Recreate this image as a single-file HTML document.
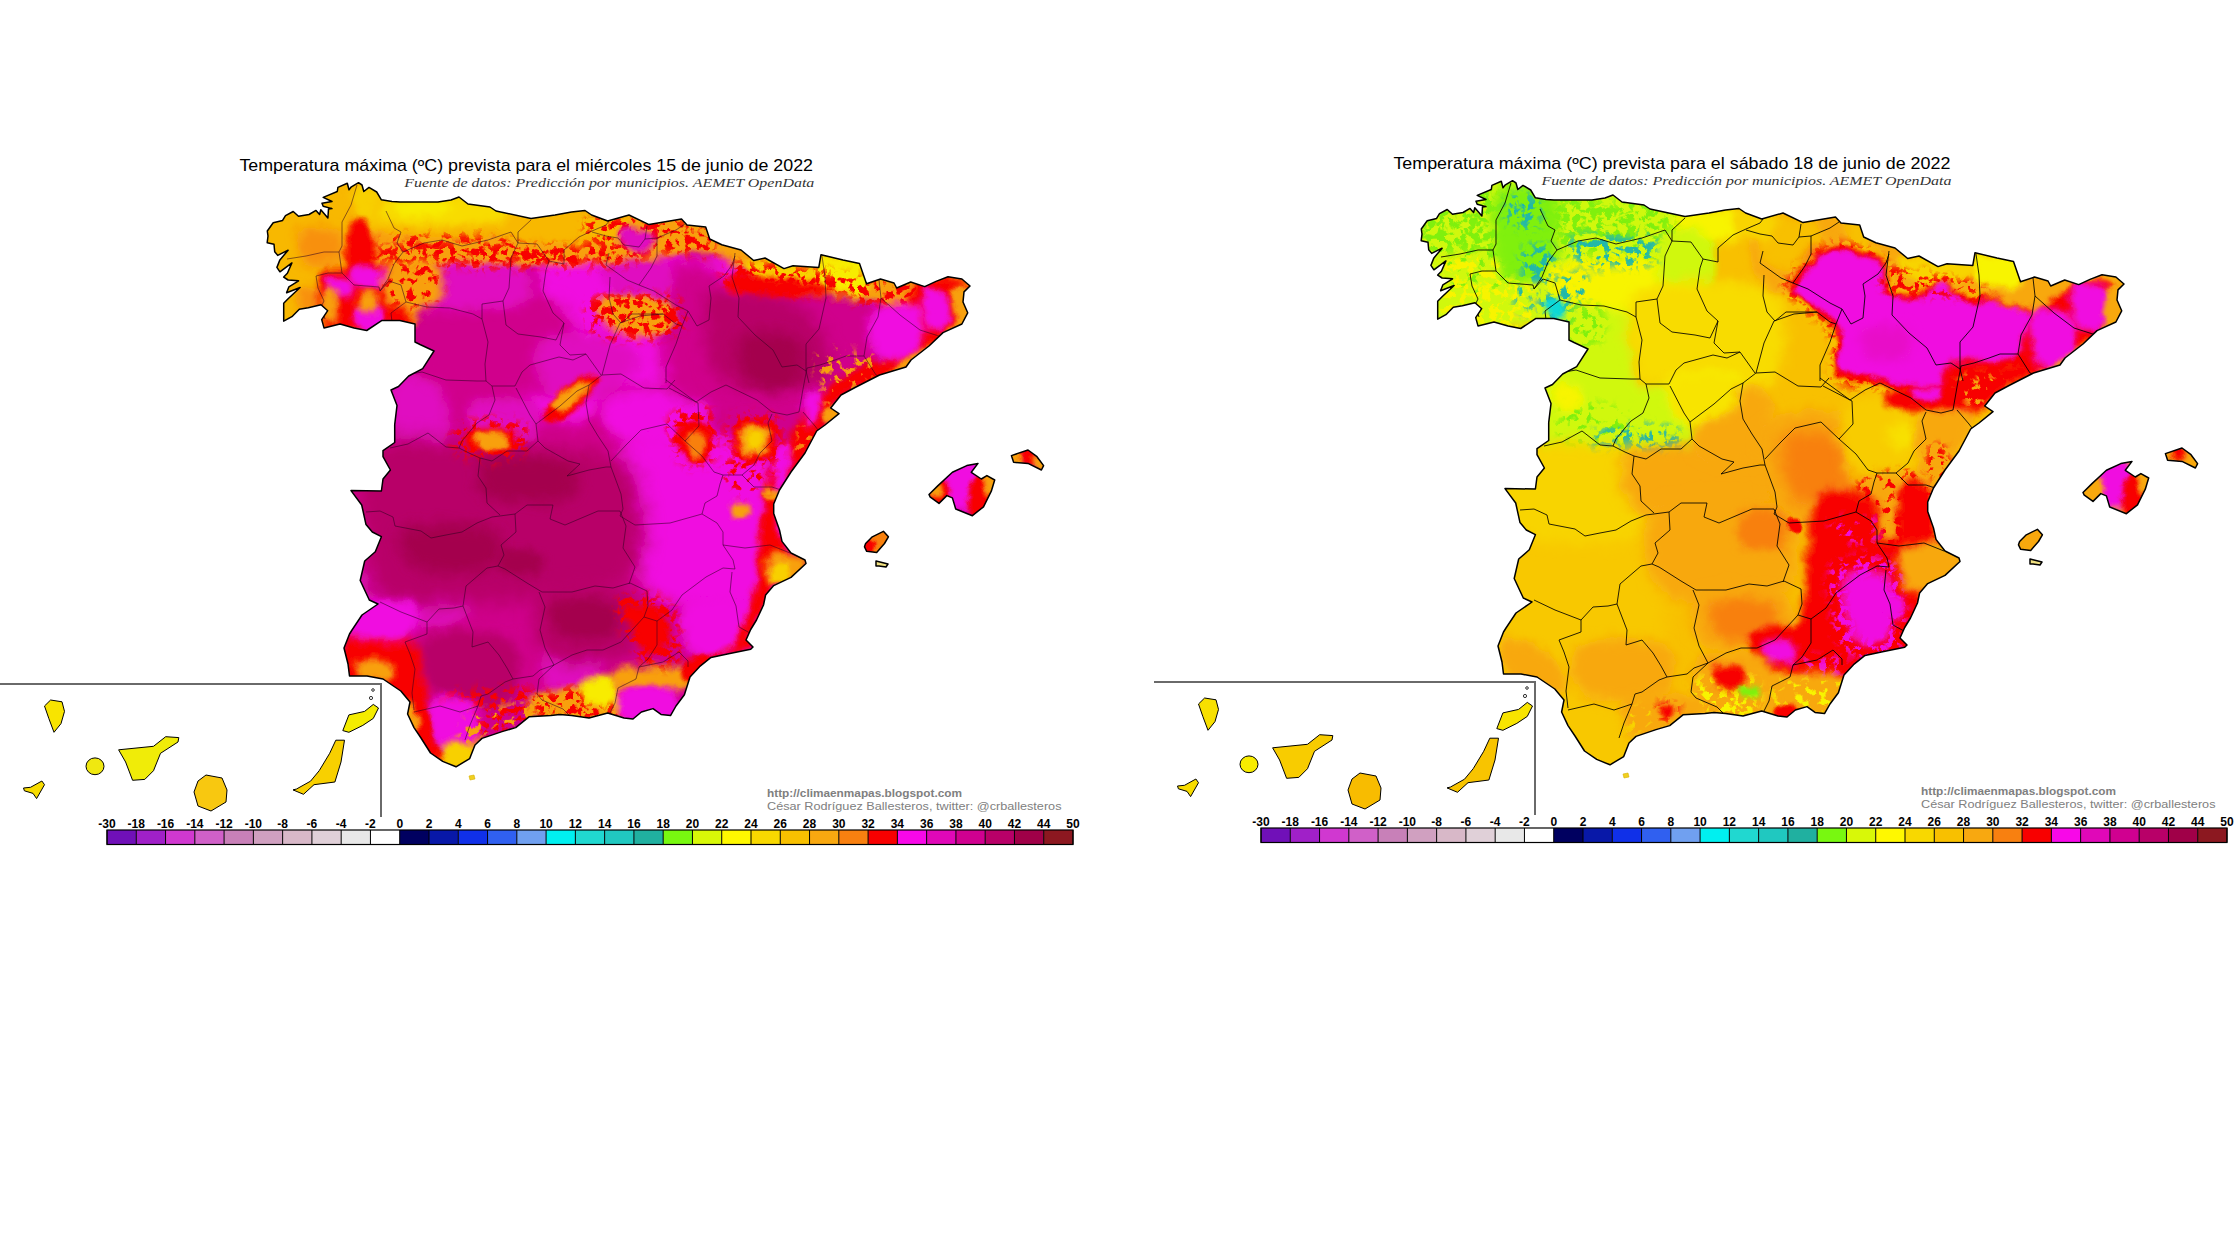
<!DOCTYPE html>
<html><head><meta charset="utf-8"><style>
html,body{margin:0;padding:0;background:#fff;width:2236px;height:1258px;overflow:hidden}
svg{display:block}
.tit{font-family:"Liberation Sans",sans-serif;font-size:16.2px;fill:#000;}
.sub{font-family:"Liberation Serif",serif;font-style:italic;font-size:12.6px;fill:#333}
.lab{font-family:"Liberation Sans",sans-serif;font-size:12px;font-weight:bold;fill:#000;text-anchor:middle}
.cr1{font-family:"Liberation Sans",sans-serif;font-size:11px;font-weight:bold;fill:#808080}
.cr2{font-family:"Liberation Sans",sans-serif;font-size:11px;fill:#808080}
</style></head><body>
<svg width="2236" height="1258" viewBox="0 0 2236 1258">
<defs><filter id="bl1" x="-50%" y="-50%" width="200%" height="200%"><feGaussianBlur stdDeviation="1"/></filter><filter id="bl2" x="-50%" y="-50%" width="200%" height="200%"><feGaussianBlur stdDeviation="2"/></filter><filter id="bl3" x="-50%" y="-50%" width="200%" height="200%"><feGaussianBlur stdDeviation="3"/></filter><filter id="bl4" x="-50%" y="-50%" width="200%" height="200%"><feGaussianBlur stdDeviation="4"/></filter><filter id="bl5" x="-50%" y="-50%" width="200%" height="200%"><feGaussianBlur stdDeviation="5"/></filter><filter id="bl6" x="-50%" y="-50%" width="200%" height="200%"><feGaussianBlur stdDeviation="6"/></filter><filter id="bl7" x="-50%" y="-50%" width="200%" height="200%"><feGaussianBlur stdDeviation="7"/></filter><filter id="bl8" x="-50%" y="-50%" width="200%" height="200%"><feGaussianBlur stdDeviation="8"/></filter><filter id="bl10" x="-50%" y="-50%" width="200%" height="200%"><feGaussianBlur stdDeviation="10"/></filter><filter id="bl12" x="-50%" y="-50%" width="200%" height="200%"><feGaussianBlur stdDeviation="12"/></filter><filter id="wob" x="0" y="0" width="2236" height="1258" filterUnits="userSpaceOnUse"><feTurbulence type="fractalNoise" baseFrequency="0.06" numOctaves="3" seed="7" result="t"/><feDisplacementMap in="SourceGraphic" in2="t" scale="10" xChannelSelector="R" yChannelSelector="G"/></filter><filter id="sp" x="-30%" y="-30%" width="160%" height="160%"><feGaussianBlur in="SourceGraphic" stdDeviation="4" result="b"/><feTurbulence type="fractalNoise" baseFrequency="0.14" numOctaves="2" seed="11" result="n"/><feColorMatrix in="n" type="matrix" values="0 0 0 0 0 0 0 0 0 0 0 0 0 0 0 10 0 0 0 -5" result="m"/><feComposite in="b" in2="m" operator="in"/></filter><filter id="sp2" x="-30%" y="-30%" width="160%" height="160%"><feGaussianBlur in="SourceGraphic" stdDeviation="4" result="b"/><feTurbulence type="fractalNoise" baseFrequency="0.12" numOctaves="2" seed="5" result="n"/><feColorMatrix in="n" type="matrix" values="0 0 0 0 0 0 0 0 0 0 0 0 0 0 0 10 0 0 0 -5.6" result="m"/><feComposite in="b" in2="m" operator="in"/></filter></defs>
<rect width="2236" height="1258" fill="#fff"/>
<g><clipPath id="clipmL"><path d="M400.0,202.0 L438.0,202.0 L451.0,200.0 L459.0,197.0 L468.0,204.0 L490.0,207.0 L496.0,211.0 L531.0,218.6 L555.0,215.0 L571.5,212.0 L585.0,210.5 L591.6,215.0 L607.7,221.0 L629.0,215.0 L649.0,224.6 L681.5,219.0 L687.0,225.0 L705.7,227.0 L709.7,239.0 L721.8,244.8 L741.0,250.0 L753.7,260.5 L765.0,258.0 L784.0,268.6 L793.0,265.7 L818.8,267.4 L821.0,254.7 L843.0,260.0 L859.5,263.4 L866.5,283.7 L880.5,279.0 L894.0,283.0 L896.7,288.0 L910.7,282.0 L924.7,286.6 L936.0,281.4 L948.0,276.7 L961.9,279.0 L970.0,286.0 L964.0,291.9 L963.0,302.0 L967.7,312.8 L961.9,324.0 L943.0,332.6 L929.0,346.0 L911.0,360.0 L906.0,367.0 L879.5,375.0 L856.0,387.0 L841.0,395.0 L830.7,408.0 L839.0,413.7 L825.0,425.0 L816.7,431.0 L805.0,453.0 L791.0,472.0 L779.5,490.0 L773.7,504.0 L773.7,513.5 L779.5,530.0 L782.0,541.4 L791.0,553.0 L805.0,560.0 L806.0,563.5 L791.0,577.4 L773.7,585.6 L765.6,595.0 L763.5,605.0 L756.5,620.0 L750.7,629.5 L746.0,640.0 L753.0,647.0 L750.7,649.3 L727.4,654.0 L711.0,657.4 L699.5,666.7 L690.0,677.0 L684.4,694.7 L676.0,706.0 L670.5,715.6 L661.0,714.4 L653.0,708.6 L641.4,712.0 L633.0,719.0 L624.0,718.0 L607.7,713.0 L589.0,718.0 L571.6,715.6 L560.0,714.4 L550.8,715.4 L529.0,716.8 L515.7,727.6 L502.0,731.6 L482.0,738.4 L475.0,745.0 L469.7,758.6 L456.0,766.8 L442.7,761.4 L430.5,753.0 L421.0,738.0 L414.0,727.6 L407.6,714.0 L410.0,702.0 L400.8,691.0 L383.0,679.0 L367.0,676.0 L349.5,676.0 L348.0,664.0 L344.0,648.0 L349.5,634.0 L352.0,630.0 L362.0,615.0 L378.0,604.0 L369.3,600.0 L360.2,580.5 L364.7,561.0 L375.3,551.8 L381.4,536.7 L372.3,532.0 L366.0,524.6 L361.7,505.0 L351.0,490.6 L381.4,491.0 L383.0,479.0 L390.4,470.0 L383.0,456.6 L383.0,450.6 L394.7,442.5 L394.7,424.7 L397.0,405.6 L391.0,390.0 L398.5,386.5 L408.7,376.0 L422.7,368.7 L434.0,351.0 L420.0,344.5 L415.0,342.0 L415.0,324.0 L399.8,320.4 L382.0,320.4 L366.7,330.5 L354.0,328.0 L340.0,324.0 L324.0,327.9 L321.7,319.6 L327.7,310.7 L321.0,304.7 L308.3,307.7 L299.3,309.2 L291.9,316.7 L283.7,321.1 L283.7,303.2 L288.1,298.7 L300.1,287.5 L286.6,292.8 L288.9,286.8 L298.6,280.8 L288.1,280.0 L283.7,277.1 L287.4,273.3 L291.9,262.9 L279.9,271.8 L276.9,267.4 L279.9,259.9 L288.1,250.2 L277.7,255.4 L274.7,251.7 L274.0,244.2 L267.2,242.7 L268.0,236.0 L267.3,231.0 L273.2,222.7 L282.6,220.4 L285.5,215.6 L293.2,211.5 L298.5,216.2 L309.0,214.5 L316.0,210.4 L319.6,214.5 L320.8,209.8 L327.9,218.0 L328.5,209.0 L332.0,208.6 L323.2,206.2 L322.0,203.3 L332.0,201.5 L323.2,197.4 L337.3,191.5 L337.9,187.4 L347.3,183.3 L349.0,189.8 L351.4,186.8 L358.5,182.7 L362.0,185.0 L363.8,191.5 L369.0,187.4 L376.7,192.0 L381.4,199.8 L392.0,201.5ZM929.0,494.5 L938.0,485.6 L952.4,472.3 L966.8,465.6 L978.0,463.4 L971.3,472.3 L981.3,479.0 L986.9,475.6 L994.7,480.0 L991.3,491.2 L983.5,506.8 L972.4,515.7 L955.7,509.0 L952.4,497.9 L946.8,495.6 L939.0,503.4 L930.0,496.8ZM1011.4,455.6 L1028.0,450.0 L1037.0,456.7 L1043.6,465.6 L1041.4,470.0 L1028.0,463.4 L1013.6,462.3ZM865.6,543.5 L872.3,536.8 L883.4,531.3 L888.4,536.8 L884.5,543.5 L876.7,552.4 L866.7,551.3 L864.5,546.8ZM876.0,561.0 L880.0,562.0 L888.0,564.0 L886.0,567.0 L879.0,566.0 L876.0,566.0Z"/></clipPath>
<g clip-path="url(#clipmL)"><g filter="url(#wob)">
<rect x="240" y="160" width="840" height="640" fill="#d0008c"/>
<path d="M437.0,262.0 C450.2,256.8 496.0,252.7 509.0,259.0 C522.0,265.3 524.8,292.3 515.0,300.0 C505.2,307.7 464.2,306.7 450.0,305.0 C435.8,303.3 432.2,297.2 430.0,290.0 C427.8,282.8 423.8,267.2 437.0,262.0Z" fill="#f008e0" filter="url(#bl6)"/>
<path d="M544.0,255.0 C554.7,248.2 596.7,245.7 608.0,259.0 C619.3,272.3 618.3,322.3 612.0,335.0 C605.7,347.7 581.3,340.8 570.0,335.0 C558.7,329.2 548.3,313.3 544.0,300.0 C539.7,286.7 533.3,261.8 544.0,255.0Z" fill="#f008e0" filter="url(#bl6)"/>
<path d="M593.0,326.0 C607.2,320.3 663.8,317.2 678.0,326.0 C692.2,334.8 687.7,369.2 678.0,379.0 C668.3,388.8 634.2,388.2 620.0,385.0 C605.8,381.8 597.5,369.8 593.0,360.0 C588.5,350.2 578.8,331.7 593.0,326.0Z" fill="#f008e0" filter="url(#bl6)"/>
<path d="M517.0,356.0 C529.7,350.3 580.3,345.8 593.0,356.0 C605.7,366.2 601.8,406.8 593.0,417.0 C584.2,427.2 552.7,421.5 540.0,417.0 C527.3,412.5 520.8,400.2 517.0,390.0 C513.2,379.8 504.3,361.7 517.0,356.0Z" fill="#f008e0" filter="url(#bl6)"/>
<path d="M608.0,394.0 C623.3,388.0 684.7,386.2 700.0,394.0 C715.3,401.8 710.0,432.5 700.0,441.0 C690.0,449.5 655.3,446.8 640.0,445.0 C624.7,443.2 613.3,438.5 608.0,430.0 C602.7,421.5 592.7,400.0 608.0,394.0Z" fill="#f008e0" filter="url(#bl6)"/>
<path d="M471.0,402.0 C479.7,394.8 521.8,395.5 532.0,402.0 C542.2,408.5 540.7,433.8 532.0,441.0 C523.3,448.2 490.2,451.5 480.0,445.0 C469.8,438.5 462.3,409.2 471.0,402.0Z" fill="#e008c0" filter="url(#bl5)"/>
<path d="M393.0,380.0 C400.5,370.3 431.3,374.5 440.0,385.0 C448.7,395.5 452.5,433.3 445.0,443.0 C437.5,452.7 403.7,453.5 395.0,443.0 C386.3,432.5 385.5,389.7 393.0,380.0Z" fill="#e008c0" filter="url(#bl6)"/>
<path d="M620.0,445.0 C629.2,430.3 656.7,431.2 680.0,432.0 C703.3,432.8 741.7,435.3 760.0,450.0 C778.3,464.7 788.3,495.0 790.0,520.0 C791.7,545.0 785.0,585.0 770.0,600.0 C755.0,615.0 720.8,611.7 700.0,610.0 C679.2,608.3 657.5,605.0 645.0,590.0 C632.5,575.0 629.2,544.2 625.0,520.0 C620.8,495.8 610.8,459.7 620.0,445.0Z" fill="#f008e0" filter="url(#bl8)"/>
<path d="M612.0,260.0 C619.2,253.3 671.2,250.0 683.0,255.0 C694.8,260.0 690.2,283.3 683.0,290.0 C675.8,296.7 651.8,300.0 640.0,295.0 C628.2,290.0 604.8,266.7 612.0,260.0Z" fill="#f008e0" filter="url(#bl5)"/>
<path d="M683.0,262.0 C692.5,257.3 730.5,251.8 740.0,262.0 C749.5,272.2 746.7,312.8 740.0,323.0 C733.3,333.2 709.5,328.5 700.0,323.0 C690.5,317.5 685.8,300.2 683.0,290.0 C680.2,279.8 673.5,266.7 683.0,262.0Z" fill="#f008e0" filter="url(#bl6)"/>
<path d="M690.0,600.0 C701.7,595.0 737.5,593.3 750.0,600.0 C762.5,606.7 766.7,630.8 765.0,640.0 C763.3,649.2 750.8,651.7 740.0,655.0 C729.2,658.3 710.0,664.2 700.0,660.0 C690.0,655.8 681.7,640.0 680.0,630.0 C678.3,620.0 678.3,605.0 690.0,600.0Z" fill="#f008e0" filter="url(#bl6)"/>
<path d="M363.0,567.0 C379.2,560.3 445.5,561.0 462.0,570.0 C478.5,579.0 472.3,611.8 462.0,621.0 C451.7,630.2 416.2,626.8 400.0,625.0 C383.8,623.2 371.2,619.7 365.0,610.0 C358.8,600.3 346.8,573.7 363.0,567.0Z" fill="#e008c0" filter="url(#bl6)"/>
<path d="M544.0,653.0 C551.5,646.8 586.5,647.3 595.0,653.0 C603.5,658.7 602.5,680.8 595.0,687.0 C587.5,693.2 558.5,695.7 550.0,690.0 C541.5,684.3 536.5,659.2 544.0,653.0Z" fill="#e008c0" filter="url(#bl5)"/>
<path d="M415.0,303.0 C438.3,293.5 530.8,289.0 555.0,303.0 C579.2,317.0 574.2,372.5 560.0,387.0 C545.8,401.5 494.2,394.5 470.0,390.0 C445.8,385.5 424.2,374.5 415.0,360.0 C405.8,345.5 391.7,312.5 415.0,303.0Z" fill="#d0008c" filter="url(#bl8)"/>
<path d="M400.0,262.0 C410.0,254.2 450.0,258.0 470.0,258.0 C490.0,258.0 510.0,255.0 520.0,262.0 C530.0,269.0 538.3,292.0 530.0,300.0 C521.7,308.0 490.0,309.2 470.0,310.0 C450.0,310.8 421.7,313.0 410.0,305.0 C398.3,297.0 390.0,269.8 400.0,262.0Z" fill="#e008c0" filter="url(#bl6)"/>
<path d="M540.0,340.0 C549.2,330.8 583.3,331.7 600.0,335.0 C616.7,338.3 640.0,349.2 640.0,360.0 C640.0,370.8 615.8,395.0 600.0,400.0 C584.2,405.0 555.0,400.0 545.0,390.0 C535.0,380.0 530.8,349.2 540.0,340.0Z" fill="#e008c0" filter="url(#bl7)"/>
<path d="M661.0,275.0 C669.3,256.3 709.3,256.3 720.0,275.0 C730.7,293.7 733.3,368.3 725.0,387.0 C716.7,405.7 680.7,405.7 670.0,387.0 C659.3,368.3 652.7,293.7 661.0,275.0Z" fill="#d0008c" filter="url(#bl8)"/>
<path d="M600.0,250.0 C606.7,241.7 648.3,241.7 660.0,250.0 C671.7,258.3 676.7,291.7 670.0,300.0 C663.3,308.3 631.7,308.3 620.0,300.0 C608.3,291.7 593.3,258.3 600.0,250.0Z" fill="#e008c0" filter="url(#bl6)"/>
<path d="M369.0,445.0 C388.7,430.8 439.5,443.3 480.0,445.0 C520.5,446.7 585.3,445.8 612.0,455.0 C638.7,464.2 635.3,482.5 640.0,500.0 C644.7,517.5 645.0,545.0 640.0,560.0 C635.0,575.0 626.7,583.3 610.0,590.0 C593.3,596.7 565.0,597.5 540.0,600.0 C515.0,602.5 486.7,605.0 460.0,605.0 C433.3,605.0 396.3,612.5 380.0,600.0 C363.7,587.5 363.8,555.8 362.0,530.0 C360.2,504.2 349.3,459.2 369.0,445.0Z" fill="#b80068" filter="url(#bl10)"/>
<path d="M404.0,529.0 C416.0,522.2 477.3,522.7 492.0,529.0 C506.7,535.3 504.0,560.2 492.0,567.0 C480.0,573.8 434.7,576.3 420.0,570.0 C405.3,563.7 392.0,535.8 404.0,529.0Z" fill="#a4004e" filter="url(#bl7)"/>
<path d="M484.0,460.0 C497.0,453.7 554.0,453.7 568.0,460.0 C582.0,466.3 581.0,491.7 568.0,498.0 C555.0,504.3 504.0,504.3 490.0,498.0 C476.0,491.7 471.0,466.3 484.0,460.0Z" fill="#a4004e" filter="url(#bl7)"/>
<path d="M500.0,552.0 C505.5,548.3 531.7,548.3 538.0,552.0 C544.3,555.7 543.5,570.3 538.0,574.0 C532.5,577.7 511.3,577.7 505.0,574.0 C498.7,570.3 494.5,555.7 500.0,552.0Z" fill="#a4004e" filter="url(#bl5)"/>
<path d="M541.0,591.0 C555.0,580.3 612.5,582.8 629.0,591.0 C645.5,599.2 643.2,628.5 640.0,640.0 C636.8,651.5 625.8,657.5 610.0,660.0 C594.2,662.5 556.5,666.5 545.0,655.0 C533.5,643.5 527.0,601.7 541.0,591.0Z" fill="#b80068" filter="url(#bl8)"/>
<path d="M553.0,602.0 C561.7,596.3 602.2,596.3 612.0,602.0 C621.8,607.7 620.7,630.3 612.0,636.0 C603.3,641.7 569.8,641.7 560.0,636.0 C550.2,630.3 544.3,607.7 553.0,602.0Z" fill="#a4004e" filter="url(#bl6)"/>
<path d="M425.0,636.0 C438.3,627.7 495.5,629.3 510.0,640.0 C524.5,650.7 518.7,689.2 512.0,700.0 C505.3,710.8 483.7,706.7 470.0,705.0 C456.3,703.3 437.5,701.5 430.0,690.0 C422.5,678.5 411.7,644.3 425.0,636.0Z" fill="#b80068" filter="url(#bl6)"/>
<path d="M712.0,289.0 C726.2,284.0 771.0,291.5 790.0,300.0 C809.0,308.5 820.0,326.7 826.0,340.0 C832.0,353.3 833.7,372.3 826.0,380.0 C818.3,387.7 797.7,386.0 780.0,386.0 C762.3,386.0 732.5,389.3 720.0,380.0 C707.5,370.7 706.3,345.2 705.0,330.0 C703.7,314.8 697.8,294.0 712.0,289.0Z" fill="#b80068" filter="url(#bl8)"/>
<path d="M740.0,337.0 C748.0,329.3 788.3,331.8 798.0,340.0 C807.7,348.2 806.0,378.3 798.0,386.0 C790.0,393.7 759.7,394.2 750.0,386.0 C740.3,377.8 732.0,344.7 740.0,337.0Z" fill="#a4004e" filter="url(#bl7)"/>
<path d="M250.0,170.0 C333.3,142.5 668.3,157.0 750.0,170.0 C831.7,183.0 748.3,234.3 740.0,248.0 C731.7,261.7 720.0,249.7 700.0,252.0 C680.0,254.3 650.0,259.8 620.0,262.0 C590.0,264.2 550.5,264.5 520.0,265.0 C489.5,265.5 453.7,259.2 437.0,265.0 C420.3,270.8 425.3,289.2 420.0,300.0 C414.7,310.8 420.0,324.2 405.0,330.0 C390.0,335.8 355.8,334.2 330.0,335.0 C304.2,335.8 263.3,362.5 250.0,335.0 C236.7,307.5 166.7,197.5 250.0,170.0Z" fill="#f8a010" filter="url(#bl3)"/>
<path d="M260.0,195.0 C273.8,183.3 330.0,175.0 345.0,180.0 C360.0,185.0 350.8,210.3 350.0,225.0 C349.2,239.7 343.3,255.5 340.0,268.0 C336.7,280.5 336.7,290.5 330.0,300.0 C323.3,309.5 310.0,320.8 300.0,325.0 C290.0,329.2 276.3,337.5 270.0,325.0 C263.7,312.5 263.7,271.7 262.0,250.0 C260.3,228.3 246.2,206.7 260.0,195.0Z" fill="#f8b800" filter="url(#bl5)"/>
<path d="M300.0,230.0 C305.5,224.5 331.3,226.7 338.0,232.0 C344.7,237.3 345.5,256.5 340.0,262.0 C334.5,267.5 311.7,270.3 305.0,265.0 C298.3,259.7 294.5,235.5 300.0,230.0Z" fill="#f89010" filter="url(#bl6)"/>
<path d="M300.0,290.0 C304.0,285.3 320.0,285.3 324.0,290.0 C328.0,294.7 328.0,313.3 324.0,318.0 C320.0,322.7 304.0,322.7 300.0,318.0 C296.0,313.3 296.0,294.7 300.0,290.0Z" fill="#f89010" filter="url(#bl5)"/>
<path d="M355.0,182.0 C360.8,177.5 386.3,188.2 392.0,195.0 C397.7,201.8 394.8,218.5 389.0,223.0 C383.2,227.5 362.7,228.8 357.0,222.0 C351.3,215.2 349.2,186.5 355.0,182.0Z" fill="#f8d000" filter="url(#bl4)"/>
<path d="M352.0,222.0 C355.3,217.8 362.7,217.8 366.0,220.0 C369.3,222.2 370.2,229.2 372.0,235.0 C373.8,240.8 376.7,247.5 377.0,255.0 C377.3,262.5 377.2,275.2 374.0,280.0 C370.8,284.8 362.5,286.0 358.0,284.0 C353.5,282.0 349.0,274.5 347.0,268.0 C345.0,261.5 345.2,252.7 346.0,245.0 C346.8,237.3 348.7,226.2 352.0,222.0Z" fill="#f80000" filter="url(#bl3)"/>
<path d="M321.0,276.0 C325.7,266.5 339.3,269.7 350.0,268.0 C360.7,266.3 375.8,263.7 385.0,266.0 C394.2,268.3 401.7,271.3 405.0,282.0 C408.3,292.7 414.2,321.7 405.0,330.0 C395.8,338.3 363.8,332.8 350.0,332.0 C336.2,331.2 326.8,334.3 322.0,325.0 C317.2,315.7 316.3,285.5 321.0,276.0Z" fill="#f80000" filter="url(#bl3)"/>
<path d="M328.0,278.0 C331.3,274.8 346.3,274.8 350.0,278.0 C353.7,281.2 353.3,293.8 350.0,297.0 C346.7,300.2 333.7,300.2 330.0,297.0 C326.3,293.8 324.7,281.2 328.0,278.0Z" fill="#f008e0" filter="url(#bl3)"/>
<path d="M353.0,268.0 C358.0,264.7 379.7,264.7 385.0,268.0 C390.3,271.3 390.0,284.7 385.0,288.0 C380.0,291.3 360.3,291.3 355.0,288.0 C349.7,284.7 348.0,271.3 353.0,268.0Z" fill="#f008e0" filter="url(#bl3)"/>
<path d="M357.0,307.0 C361.2,303.2 377.8,303.2 382.0,307.0 C386.2,310.8 386.2,326.2 382.0,330.0 C377.8,333.8 361.2,333.8 357.0,330.0 C352.8,326.2 352.8,310.8 357.0,307.0Z" fill="#f008e0" filter="url(#bl3)"/>
<path d="M360.0,294.0 C362.7,291.3 373.3,291.3 376.0,294.0 C378.7,296.7 378.7,307.3 376.0,310.0 C373.3,312.7 362.7,312.7 360.0,310.0 C357.3,307.3 357.3,296.7 360.0,294.0Z" fill="#f8a010" filter="url(#bl3)"/>
<path d="M322.0,292.0 C324.3,287.3 333.7,287.3 336.0,292.0 C338.3,296.7 338.3,315.3 336.0,320.0 C333.7,324.7 324.3,324.7 322.0,320.0 C319.7,315.3 319.7,296.7 322.0,292.0Z" fill="#f8a010" filter="url(#bl3)"/>
<path d="M383.0,196.0 C398.8,190.0 450.5,193.7 480.0,196.0 C509.5,198.3 546.7,204.0 560.0,210.0 C573.3,216.0 578.3,227.7 560.0,232.0 C541.7,236.3 479.2,236.0 450.0,236.0 C420.8,236.0 396.2,238.7 385.0,232.0 C373.8,225.3 367.2,202.0 383.0,196.0Z" fill="#f8b800" filter="url(#bl4)"/>
<path d="M388.0,198.0 C406.0,193.7 479.7,194.0 500.0,198.0 C520.3,202.0 528.0,217.7 510.0,222.0 C492.0,226.3 412.3,228.0 392.0,224.0 C371.7,220.0 370.0,202.3 388.0,198.0Z" fill="#f8dc00" filter="url(#bl4)"/>
<path d="M400.0,202.0 C406.3,199.7 432.5,198.0 440.0,200.0 C447.5,202.0 451.3,211.7 445.0,214.0 C438.7,216.3 409.5,216.0 402.0,214.0 C394.5,212.0 393.7,204.3 400.0,202.0Z" fill="#f8ec00" filter="url(#bl3)"/>
<path d="M395.0,236.0 C414.3,233.7 491.7,233.7 511.0,236.0 C530.3,238.3 530.3,247.7 511.0,250.0 C491.7,252.3 414.3,252.3 395.0,250.0 C375.7,247.7 375.7,238.3 395.0,236.0Z" fill="#f80000" filter="url(#sp2)"/>
<path d="M395.0,245.0 C432.5,241.2 582.5,239.5 620.0,243.0 C657.5,246.5 657.5,262.2 620.0,266.0 C582.5,269.8 432.5,269.5 395.0,266.0 C357.5,262.5 357.5,248.8 395.0,245.0Z" fill="#f80000" filter="url(#sp)"/>
<path d="M395.0,247.0 C432.5,244.2 582.5,242.5 620.0,245.0 C657.5,247.5 657.5,259.2 620.0,262.0 C582.5,264.8 432.5,264.5 395.0,262.0 C357.5,259.5 357.5,249.8 395.0,247.0Z" fill="#f80000" filter="url(#sp2)"/>
<path d="M389.0,265.0 C397.0,258.5 429.0,258.5 437.0,265.0 C445.0,271.5 445.0,297.5 437.0,304.0 C429.0,310.5 397.0,310.5 389.0,304.0 C381.0,297.5 381.0,271.5 389.0,265.0Z" fill="#f8a010" filter="url(#bl4)"/>
<path d="M389.0,265.0 C397.0,258.5 429.0,258.5 437.0,265.0 C445.0,271.5 445.0,297.5 437.0,304.0 C429.0,310.5 397.0,310.5 389.0,304.0 C381.0,297.5 381.0,271.5 389.0,265.0Z" fill="#f80000" filter="url(#sp2)"/>
<path d="M517.0,210.0 C534.2,205.7 602.8,209.0 620.0,214.0 C637.2,219.0 637.2,235.7 620.0,240.0 C602.8,244.3 534.2,245.0 517.0,240.0 C499.8,235.0 499.8,214.3 517.0,210.0Z" fill="#f8b800" filter="url(#bl4)"/>
<path d="M600.0,215.0 C622.7,212.5 713.3,223.3 736.0,230.0 C758.7,236.7 758.7,252.5 736.0,255.0 C713.3,257.5 622.7,251.7 600.0,245.0 C577.3,238.3 577.3,217.5 600.0,215.0Z" fill="#f80000" filter="url(#sp)"/>
<path d="M620.0,230.0 C623.3,226.7 642.7,227.0 648.0,230.0 C653.3,233.0 655.3,244.7 652.0,248.0 C648.7,251.3 633.3,253.0 628.0,250.0 C622.7,247.0 616.7,233.3 620.0,230.0Z" fill="#e008c0" filter="url(#bl3)"/>
<path d="M600.0,298.0 C606.3,292.3 637.3,294.0 650.0,296.0 C662.7,298.0 674.3,303.7 676.0,310.0 C677.7,316.3 670.7,330.7 660.0,334.0 C649.3,337.3 622.0,336.0 612.0,330.0 C602.0,324.0 593.7,303.7 600.0,298.0Z" fill="#f8a010" filter="url(#bl3)"/>
<path d="M596.0,296.0 C609.3,289.5 662.7,289.5 676.0,296.0 C689.3,302.5 689.3,328.5 676.0,335.0 C662.7,341.5 609.3,341.5 596.0,335.0 C582.7,328.5 582.7,302.5 596.0,296.0Z" fill="#f80000" filter="url(#sp)"/>
<path d="M720.0,240.0 C741.7,237.5 828.3,250.0 870.0,255.0 C911.7,260.0 953.3,262.5 970.0,270.0 C986.7,277.5 981.7,293.3 970.0,300.0 C958.3,306.7 917.3,310.0 900.0,310.0 C882.7,310.0 882.7,303.0 866.0,300.0 C849.3,297.0 821.0,297.0 800.0,292.0 C779.0,287.0 753.3,278.7 740.0,270.0 C726.7,261.3 698.3,242.5 720.0,240.0Z" fill="#f8a010" filter="url(#bl3)"/>
<path d="M748.0,260.0 C757.2,257.2 803.8,261.7 815.0,265.0 C826.2,268.3 824.2,277.2 815.0,280.0 C805.8,282.8 771.2,285.3 760.0,282.0 C748.8,278.7 738.8,262.8 748.0,260.0Z" fill="#f8d000" filter="url(#bl3)"/>
<path d="M821.0,256.0 C827.2,251.3 857.7,256.3 865.0,262.0 C872.3,267.7 871.2,285.3 865.0,290.0 C858.8,294.7 835.3,295.7 828.0,290.0 C820.7,284.3 814.8,260.7 821.0,256.0Z" fill="#f8ec00" filter="url(#bl3)"/>
<path d="M736.0,262.0 C757.5,260.0 843.5,272.5 865.0,278.0 C886.5,283.5 886.5,293.0 865.0,295.0 C843.5,297.0 757.5,295.5 736.0,290.0 C714.5,284.5 714.5,264.0 736.0,262.0Z" fill="#f80000" filter="url(#sp)"/>
<path d="M736.0,275.0 C750.2,273.8 806.8,281.5 821.0,285.0 C835.2,288.5 835.2,294.8 821.0,296.0 C806.8,297.2 750.2,295.5 736.0,292.0 C721.8,288.5 721.8,276.2 736.0,275.0Z" fill="#f80000" filter="url(#bl3)"/>
<path d="M865.0,280.0 C882.3,276.5 951.7,280.7 969.0,285.0 C986.3,289.3 986.3,302.5 969.0,306.0 C951.7,309.5 882.3,310.3 865.0,306.0 C847.7,301.7 847.7,283.5 865.0,280.0Z" fill="#f80000" filter="url(#sp)"/>
<path d="M915.0,283.0 C926.0,272.7 957.0,275.2 966.0,283.0 C975.0,290.8 975.0,317.2 969.0,330.0 C963.0,342.8 944.8,348.7 930.0,360.0 C915.2,371.3 892.5,393.8 880.0,398.0 C867.5,402.2 851.7,393.8 855.0,385.0 C858.3,376.2 890.0,362.0 900.0,345.0 C910.0,328.0 904.0,293.3 915.0,283.0Z" fill="#f80000" filter="url(#bl4)"/>
<path d="M923.0,292.0 C926.2,286.5 942.5,290.0 947.0,295.0 C951.5,300.0 953.2,316.5 950.0,322.0 C946.8,327.5 932.5,333.0 928.0,328.0 C923.5,323.0 919.8,297.5 923.0,292.0Z" fill="#f008e0" filter="url(#bl3)"/>
<path d="M872.0,312.0 C879.7,304.5 909.7,299.0 918.0,305.0 C926.3,311.0 925.8,338.5 922.0,348.0 C918.2,357.5 903.3,361.7 895.0,362.0 C886.7,362.3 875.8,358.3 872.0,350.0 C868.2,341.7 864.3,319.5 872.0,312.0Z" fill="#f008e0" filter="url(#bl4)"/>
<path d="M952.0,290.0 C954.8,285.0 969.0,283.3 972.0,290.0 C975.0,296.7 973.7,320.7 970.0,330.0 C966.3,339.3 955.0,345.0 950.0,346.0 C945.0,347.0 939.2,340.3 940.0,336.0 C940.8,331.7 953.0,327.7 955.0,320.0 C957.0,312.3 949.2,295.0 952.0,290.0Z" fill="#f8a010" filter="url(#bl2)"/>
<path d="M930.0,346.0 C938.3,342.3 958.3,334.3 955.0,338.0 C951.7,341.7 922.5,360.7 910.0,368.0 C897.5,375.3 880.8,383.3 880.0,382.0 C879.2,380.7 896.7,366.0 905.0,360.0 C913.3,354.0 921.7,349.7 930.0,346.0Z" fill="#f8a010" filter="url(#bl2)"/>
<path d="M870.0,362.0 C877.7,361.0 891.0,366.0 886.0,372.0 C881.0,378.0 850.3,388.3 840.0,398.0 C829.7,407.7 829.3,420.5 824.0,430.0 C818.7,439.5 813.3,447.0 808.0,455.0 C802.7,463.0 796.7,470.5 792.0,478.0 C787.3,485.5 782.7,491.3 780.0,500.0 C777.3,508.7 774.3,521.2 776.0,530.0 C777.7,538.8 785.0,547.7 790.0,553.0 C795.0,558.3 806.0,557.8 806.0,562.0 C806.0,566.2 795.7,573.7 790.0,578.0 C784.3,582.3 776.3,582.7 772.0,588.0 C767.7,593.3 767.3,602.0 764.0,610.0 C760.7,618.0 754.7,629.3 752.0,636.0 C749.3,642.7 754.7,646.0 748.0,650.0 C741.3,654.0 720.0,656.7 712.0,660.0 C704.0,663.3 703.3,669.7 700.0,670.0 C696.7,670.3 687.0,665.3 692.0,662.0 C697.0,658.7 721.7,655.3 730.0,650.0 C738.3,644.7 738.3,638.3 742.0,630.0 C745.7,621.7 749.3,610.0 752.0,600.0 C754.7,590.0 756.3,585.0 758.0,570.0 C759.7,555.0 760.0,526.7 762.0,510.0 C764.0,493.3 765.3,482.5 770.0,470.0 C774.7,457.5 782.5,446.7 790.0,435.0 C797.5,423.3 806.7,409.5 815.0,400.0 C823.3,390.5 830.8,384.3 840.0,378.0 C849.2,371.7 862.3,363.0 870.0,362.0Z" fill="#f80000" filter="url(#bl3)"/>
<path d="M821.0,352.0 C830.3,344.7 876.2,352.8 881.0,360.0 C885.8,367.2 859.3,387.7 850.0,395.0 C840.7,402.3 829.8,411.2 825.0,404.0 C820.2,396.8 811.7,359.3 821.0,352.0Z" fill="#f8a010" filter="url(#sp2)"/>
<path d="M824.0,408.0 C826.2,406.0 836.5,406.0 839.0,408.0 C841.5,410.0 841.2,418.0 839.0,420.0 C836.8,422.0 828.5,422.0 826.0,420.0 C823.5,418.0 821.8,410.0 824.0,408.0Z" fill="#f8a010" filter="url(#bl2)"/>
<path d="M800.0,426.0 C803.7,422.0 816.7,423.0 817.0,428.0 C817.3,433.0 805.7,452.0 802.0,456.0 C798.3,460.0 795.3,457.0 795.0,452.0 C794.7,447.0 796.3,430.0 800.0,426.0Z" fill="#f8a010" filter="url(#sp2)"/>
<path d="M766.0,487.0 C768.3,485.0 777.7,485.0 780.0,487.0 C782.3,489.0 782.3,497.0 780.0,499.0 C777.7,501.0 768.3,501.0 766.0,499.0 C763.7,497.0 763.7,489.0 766.0,487.0Z" fill="#f8a010" filter="url(#bl2)"/>
<path d="M805.0,392.0 C807.7,387.3 819.3,386.7 821.0,392.0 C822.7,397.3 817.7,419.3 815.0,424.0 C812.3,428.7 806.7,425.3 805.0,420.0 C803.3,414.7 802.3,396.7 805.0,392.0Z" fill="#f008e0" filter="url(#bl3)"/>
<path d="M774.0,447.0 C776.8,440.7 789.2,440.7 791.0,447.0 C792.8,453.3 787.8,478.7 785.0,485.0 C782.2,491.3 775.8,491.3 774.0,485.0 C772.2,478.7 771.2,453.3 774.0,447.0Z" fill="#f008e0" filter="url(#bl3)"/>
<path d="M770.0,555.0 C775.8,550.5 800.0,554.7 805.0,558.0 C810.0,561.3 805.8,570.5 800.0,575.0 C794.2,579.5 775.0,588.3 770.0,585.0 C765.0,581.7 764.2,559.5 770.0,555.0Z" fill="#f8a010" filter="url(#bl3)"/>
<path d="M775.0,565.0 C778.0,562.2 788.3,562.5 790.0,565.0 C791.7,567.5 788.0,577.2 785.0,580.0 C782.0,582.8 773.7,584.5 772.0,582.0 C770.3,579.5 772.0,567.8 775.0,565.0Z" fill="#f8d000" filter="url(#bl2)"/>
<path d="M731.0,418.0 C738.0,410.8 769.3,410.8 777.0,418.0 C784.7,425.2 784.0,453.8 777.0,461.0 C770.0,468.2 742.7,468.2 735.0,461.0 C727.3,453.8 724.0,425.2 731.0,418.0Z" fill="#f80000" filter="url(#sp)"/>
<path d="M736.0,424.0 C741.7,418.7 766.0,418.7 772.0,424.0 C778.0,429.3 777.7,450.7 772.0,456.0 C766.3,461.3 744.0,461.3 738.0,456.0 C732.0,450.7 730.3,429.3 736.0,424.0Z" fill="#f80000" filter="url(#bl2)"/>
<path d="M740.0,428.0 C744.3,424.0 763.7,424.0 768.0,428.0 C772.3,432.0 770.3,448.0 766.0,452.0 C761.7,456.0 746.3,456.0 742.0,452.0 C737.7,448.0 735.7,432.0 740.0,428.0Z" fill="#f8a010" filter="url(#bl2)"/>
<path d="M746.0,433.0 C748.3,430.7 759.3,430.7 762.0,433.0 C764.7,435.3 764.3,444.7 762.0,447.0 C759.7,449.3 750.7,449.3 748.0,447.0 C745.3,444.7 743.7,435.3 746.0,433.0Z" fill="#f8d000" filter="url(#bl2)"/>
<path d="M671.0,414.0 C676.5,406.2 706.0,406.2 713.0,414.0 C720.0,421.8 718.5,453.2 713.0,461.0 C707.5,468.8 687.0,468.8 680.0,461.0 C673.0,453.2 665.5,421.8 671.0,414.0Z" fill="#f80000" filter="url(#sp)"/>
<path d="M680.0,425.0 C684.0,419.5 703.3,419.5 708.0,425.0 C712.7,430.5 712.0,452.5 708.0,458.0 C704.0,463.5 688.7,463.5 684.0,458.0 C679.3,452.5 676.0,430.5 680.0,425.0Z" fill="#f80000" filter="url(#bl2)"/>
<path d="M688.0,434.0 C690.2,430.5 700.5,430.5 703.0,434.0 C705.5,437.5 705.2,451.5 703.0,455.0 C700.8,458.5 692.5,458.5 690.0,455.0 C687.5,451.5 685.8,437.5 688.0,434.0Z" fill="#f88010" filter="url(#bl2)"/>
<path d="M725.0,459.0 C731.7,453.8 762.5,453.8 770.0,459.0 C777.5,464.2 776.7,484.8 770.0,490.0 C763.3,495.2 737.5,495.2 730.0,490.0 C722.5,484.8 718.3,464.2 725.0,459.0Z" fill="#f80000" filter="url(#sp2)"/>
<path d="M733.0,503.0 C735.3,500.7 744.7,500.7 747.0,503.0 C749.3,505.3 749.3,514.7 747.0,517.0 C744.7,519.3 735.3,519.3 733.0,517.0 C730.7,514.7 730.7,505.3 733.0,503.0Z" fill="#f8a010" filter="url(#bl2)"/>
<path d="M458.0,424.0 C468.0,418.0 509.3,416.7 520.0,422.0 C530.7,427.3 532.0,450.0 522.0,456.0 C512.0,462.0 470.7,463.3 460.0,458.0 C449.3,452.7 448.0,430.0 458.0,424.0Z" fill="#f80000" filter="url(#sp)"/>
<path d="M470.0,430.0 C476.7,426.7 505.3,426.7 512.0,430.0 C518.7,433.3 516.7,446.7 510.0,450.0 C503.3,453.3 478.7,453.3 472.0,450.0 C465.3,446.7 463.3,433.3 470.0,430.0Z" fill="#f80000" filter="url(#bl3)"/>
<path d="M478.0,433.0 C482.2,430.5 500.7,430.5 505.0,433.0 C509.3,435.5 508.2,445.5 504.0,448.0 C499.8,450.5 484.3,450.5 480.0,448.0 C475.7,445.5 473.8,435.5 478.0,433.0Z" fill="#f8a010" filter="url(#bl2)"/>
<path d="M547.0,410.0 C552.0,403.0 566.2,385.3 575.0,380.0 C583.8,374.7 600.8,372.2 600.0,378.0 C599.2,383.8 579.2,407.7 570.0,415.0 C560.8,422.3 548.8,422.8 545.0,422.0 C541.2,421.2 542.0,417.0 547.0,410.0Z" fill="#f80000" filter="url(#bl2)"/>
<path d="M552.0,405.0 C553.5,400.8 568.3,388.5 575.0,385.0 C581.7,381.5 593.5,379.8 592.0,384.0 C590.5,388.2 572.7,406.5 566.0,410.0 C559.3,413.5 550.5,409.2 552.0,405.0Z" fill="#f8a010" filter="url(#bl2)"/>
<path d="M615.0,601.0 C619.2,590.8 653.8,594.5 665.0,601.0 C676.2,607.5 680.8,629.3 682.0,640.0 C683.2,650.7 679.0,661.3 672.0,665.0 C665.0,668.7 649.5,672.7 640.0,662.0 C630.5,651.3 610.8,611.2 615.0,601.0Z" fill="#f80000" filter="url(#sp)"/>
<path d="M625.0,610.0 C626.7,602.5 652.5,605.0 660.0,610.0 C667.5,615.0 671.7,632.5 670.0,640.0 C668.3,647.5 657.5,660.0 650.0,655.0 C642.5,650.0 623.3,617.5 625.0,610.0Z" fill="#f80000" filter="url(#bl3)"/>
<path d="M348.0,635.0 C359.0,625.0 398.2,630.8 411.0,640.0 C423.8,649.2 421.8,673.3 425.0,690.0 C428.2,706.7 427.5,728.3 430.0,740.0 C432.5,751.7 444.2,756.7 440.0,760.0 C435.8,763.3 420.8,770.0 405.0,760.0 C389.2,750.0 354.5,720.8 345.0,700.0 C335.5,679.2 337.0,645.0 348.0,635.0Z" fill="#f80000" filter="url(#bl4)"/>
<path d="M345.0,602.0 C356.3,597.5 406.0,598.7 416.0,605.0 C426.0,611.3 412.7,634.2 405.0,640.0 C397.3,645.8 379.5,641.3 370.0,640.0 C360.5,638.7 352.2,638.3 348.0,632.0 C343.8,625.7 333.7,606.5 345.0,602.0Z" fill="#f008e0" filter="url(#bl5)"/>
<path d="M357.0,662.0 C361.7,659.2 382.2,659.2 388.0,662.0 C393.8,664.8 396.7,676.2 392.0,679.0 C387.3,681.8 365.8,681.8 360.0,679.0 C354.2,676.2 352.3,664.8 357.0,662.0Z" fill="#f8a010" filter="url(#bl3)"/>
<path d="M404.0,704.0 C405.8,700.0 414.7,699.7 417.0,704.0 C419.3,708.3 419.8,726.0 418.0,730.0 C416.2,734.0 408.3,732.3 406.0,728.0 C403.7,723.7 402.2,708.0 404.0,704.0Z" fill="#f8a010" filter="url(#bl2)"/>
<path d="M442.0,698.0 C457.7,685.2 519.7,686.0 536.0,690.0 C552.3,694.0 549.3,713.7 540.0,722.0 C530.7,730.3 493.0,732.5 480.0,740.0 C467.0,747.5 468.3,762.5 462.0,767.0 C455.7,771.5 445.3,778.5 442.0,767.0 C438.7,755.5 426.3,710.8 442.0,698.0Z" fill="#f80000" filter="url(#sp)"/>
<path d="M446.0,745.0 C451.7,739.8 476.0,731.5 480.0,735.0 C484.0,738.5 475.7,760.8 470.0,766.0 C464.3,771.2 450.0,769.5 446.0,766.0 C442.0,762.5 440.3,750.2 446.0,745.0Z" fill="#f8a010" filter="url(#bl3)"/>
<path d="M430.0,702.0 C436.3,694.8 469.3,697.0 476.0,705.0 C482.7,713.0 476.3,742.8 470.0,750.0 C463.7,757.2 444.7,756.0 438.0,748.0 C431.3,740.0 423.7,709.2 430.0,702.0Z" fill="#f008e0" filter="url(#bl4)"/>
<path d="M408.0,700.0 C409.7,694.2 419.7,693.3 424.0,700.0 C428.3,706.7 430.3,730.0 434.0,740.0 C437.7,750.0 446.7,756.3 446.0,760.0 C445.3,763.7 435.3,766.2 430.0,762.0 C424.7,757.8 417.7,745.3 414.0,735.0 C410.3,724.7 406.3,705.8 408.0,700.0Z" fill="#f80000" filter="url(#bl2)"/>
<path d="M404.0,704.0 C405.3,700.3 411.7,700.0 414.0,704.0 C416.3,708.0 419.3,724.3 418.0,728.0 C416.7,731.7 408.3,730.0 406.0,726.0 C403.7,722.0 402.7,707.7 404.0,704.0Z" fill="#f8a010" filter="url(#bl2)"/>
<path d="M470.0,715.0 C483.3,706.7 528.3,698.8 540.0,700.0 C551.7,701.2 550.0,715.7 540.0,722.0 C530.0,728.3 493.3,733.3 480.0,738.0 C466.7,742.7 461.7,753.8 460.0,750.0 C458.3,746.2 456.7,723.3 470.0,715.0Z" fill="#f8a010" filter="url(#sp2)"/>
<path d="M442.0,745.0 C446.7,741.2 468.3,741.2 473.0,745.0 C477.7,748.8 474.7,764.2 470.0,768.0 C465.3,771.8 449.7,771.8 445.0,768.0 C440.3,764.2 437.3,748.8 442.0,745.0Z" fill="#f8d000" filter="url(#bl3)"/>
<path d="M536.0,693.0 C549.5,687.7 606.2,685.8 621.0,690.0 C635.8,694.2 638.5,712.7 625.0,718.0 C611.5,723.3 554.8,726.2 540.0,722.0 C525.2,717.8 522.5,698.3 536.0,693.0Z" fill="#f8a010" filter="url(#bl3)"/>
<path d="M536.0,693.0 C549.5,687.7 606.2,685.8 621.0,690.0 C635.8,694.2 638.5,712.7 625.0,718.0 C611.5,723.3 554.8,726.2 540.0,722.0 C525.2,717.8 522.5,698.3 536.0,693.0Z" fill="#f80000" filter="url(#sp)"/>
<path d="M583.0,679.0 C587.7,675.0 610.5,675.0 616.0,679.0 C621.5,683.0 620.7,699.0 616.0,703.0 C611.3,707.0 593.5,707.0 588.0,703.0 C582.5,699.0 578.3,683.0 583.0,679.0Z" fill="#f8ec00" filter="url(#bl3)"/>
<path d="M617.0,699.0 C620.7,697.2 636.2,697.2 640.0,699.0 C643.8,700.8 643.7,708.2 640.0,710.0 C636.3,711.8 621.8,711.8 618.0,710.0 C614.2,708.2 613.3,700.8 617.0,699.0Z" fill="#f8ec00" filter="url(#bl2)"/>
<path d="M619.0,669.0 C630.2,665.7 675.7,665.7 687.0,669.0 C698.3,672.3 698.2,685.7 687.0,689.0 C675.8,692.3 631.3,692.3 620.0,689.0 C608.7,685.7 607.8,672.3 619.0,669.0Z" fill="#f8a010" filter="url(#bl3)"/>
<path d="M622.0,691.0 C629.8,685.8 663.2,684.2 672.0,689.0 C680.8,693.8 682.8,714.8 675.0,720.0 C667.2,725.2 633.8,724.8 625.0,720.0 C616.2,715.2 614.2,696.2 622.0,691.0Z" fill="#f008e0" filter="url(#bl3)"/>
<path d="M685.0,662.0 C690.3,657.3 717.5,653.7 720.0,656.0 C722.5,658.3 705.3,671.3 700.0,676.0 C694.7,680.7 690.5,686.3 688.0,684.0 C685.5,681.7 679.7,666.7 685.0,662.0Z" fill="#f80000" filter="url(#bl2)"/>
<path d="M627.0,602.0 C630.0,592.3 656.3,595.7 665.0,602.0 C673.7,608.3 677.3,629.3 679.0,640.0 C680.7,650.7 680.3,662.7 675.0,666.0 C669.7,669.3 655.0,670.7 647.0,660.0 C639.0,649.3 624.0,611.7 627.0,602.0Z" fill="#f80000" filter="url(#sp2)"/>
<path d="M940.0,470.0 C945.8,463.3 972.5,455.0 980.0,460.0 C987.5,465.0 988.3,491.3 985.0,500.0 C981.7,508.7 966.7,512.0 960.0,512.0 C953.3,512.0 948.3,507.0 945.0,500.0 C941.7,493.0 934.2,476.7 940.0,470.0Z" fill="#f008e0" filter="url(#bl3)"/>
<path d="M925.0,485.0 C928.3,480.8 941.2,476.7 945.0,480.0 C948.8,483.3 951.3,500.8 948.0,505.0 C944.7,509.2 928.8,508.3 925.0,505.0 C921.2,501.7 921.7,489.2 925.0,485.0Z" fill="#f80000" filter="url(#bl2)"/>
<path d="M930.0,488.0 C931.7,486.0 938.0,482.7 940.0,484.0 C942.0,485.3 943.7,494.0 942.0,496.0 C940.3,498.0 932.0,497.3 930.0,496.0 C928.0,494.7 928.3,490.0 930.0,488.0Z" fill="#f8a010" filter="url(#bl2)"/>
<path d="M973.0,478.0 C976.7,471.3 986.3,466.3 990.0,470.0 C993.7,473.7 997.0,492.0 995.0,500.0 C993.0,508.0 982.5,516.3 978.0,518.0 C973.5,519.7 968.8,516.7 968.0,510.0 C967.2,503.3 969.3,484.7 973.0,478.0Z" fill="#f80000" filter="url(#bl2)"/>
<path d="M984.0,472.0 C986.0,469.0 996.2,471.7 998.0,476.0 C999.8,480.3 997.0,495.0 995.0,498.0 C993.0,501.0 987.8,498.3 986.0,494.0 C984.2,489.7 982.0,475.0 984.0,472.0Z" fill="#f8a010" filter="url(#bl2)"/>
<path d="M1008.0,450.0 C1010.3,447.3 1019.7,447.3 1022.0,450.0 C1024.3,452.7 1024.3,463.3 1022.0,466.0 C1019.7,468.7 1010.3,468.7 1008.0,466.0 C1005.7,463.3 1005.7,452.7 1008.0,450.0Z" fill="#f8a010" filter="url(#bl2)"/>
<path d="M1022.0,450.0 C1023.7,447.7 1031.7,449.7 1034.0,452.0 C1036.3,454.3 1037.7,461.7 1036.0,464.0 C1034.3,466.3 1026.3,468.3 1024.0,466.0 C1021.7,463.7 1020.3,452.3 1022.0,450.0Z" fill="#f80000" filter="url(#bl2)"/>
<path d="M1034.0,456.0 C1036.0,455.3 1044.3,459.3 1046.0,462.0 C1047.7,464.7 1046.0,471.3 1044.0,472.0 C1042.0,472.7 1035.7,468.7 1034.0,466.0 C1032.3,463.3 1032.0,456.7 1034.0,456.0Z" fill="#f8a010" filter="url(#bl2)"/>
<path d="M860.0,528.0 C865.3,523.3 886.7,523.3 892.0,528.0 C897.3,532.7 897.3,551.3 892.0,556.0 C886.7,560.7 865.3,560.7 860.0,556.0 C854.7,551.3 854.7,532.7 860.0,528.0Z" fill="#f88010" filter="url(#bl2)"/>
<path d="M862.0,542.0 C863.7,540.3 870.3,540.3 872.0,542.0 C873.7,543.7 873.7,550.3 872.0,552.0 C870.3,553.7 863.7,553.7 862.0,552.0 C860.3,550.3 860.3,543.7 862.0,542.0Z" fill="#f80000" filter="url(#bl1)"/>
<path d="M872.0,558.0 C875.3,556.0 888.7,556.0 892.0,558.0 C895.3,560.0 895.3,568.0 892.0,570.0 C888.7,572.0 875.3,572.0 872.0,570.0 C868.7,568.0 868.7,560.0 872.0,558.0Z" fill="#f0e080" filter="url(#bl1)"/>
</g></g>
<path d="M357,185 L351,205 L342,222 L342,246 L339,252M287,259 L306,256 L324,252 L339,252M339,252 L342,273 L328,273 L316,276 L318,288 L324,301 L321,307 L325,319M342,273 L354,285 L379,287 L380,291M386,211 L394,228 L401,232 L397,243 L403,252M403,252 L394,264 L388,279 L380,291M380,291 L389,281 L401,285 L406,302 L391,313 L392,322M406,302 L427,307 L450,308 L473,314 L482,319M403,252 L424,243 L442,240 L462,246 L488,240 L511,232 L518,243M531,220 L518,232 L518,243M518,243 L511,258 L509,288 L503,301 L482,304 L482,319M518,243 L537,244 L549,261 L564,264 L564,250 L579,237 L592,231 L606,225 L609,221M549,261 L546,270 L543,291 L553,313 L564,323M503,301 L506,325 L518,334 L541,337 L556,340 L564,323M482,319 L488,342 L485,364 L486,381M564,323 L560,345 L570,355 L586,354 L601,375M492,386 L515,386 L522,372 L530,365 L559,357 L573,360 L586,354M405,375 L422,372 L446,380 L477,381 L486,381 L492,386M492,386 L495,400 L489,415 L477,423 L471,430 L462,441 L459,448M516,388 L530,415 L536,424M536,424 L560,406 L577,391 L589,385 L602,375M602,375 L621,374 L644,388 L667,389 L675,380M536,424 L538,441 L527,451 L507,451 L492,461 L480,458M459,448 L471,454 L480,458M390,448 L408,444 L428,433 L446,447 L459,448M480,458 L478,476 L486,488 L487,503 L500,515M366,512 L380,511 L393,517 L395,526 L421,531 L431,538 L446,535 L462,532 L477,523 L492,517 L515,514M538,441 L545,448 L568,461 L580,464 L567,476 L589,470 L606,467 L611,467M589,385 L586,403 L589,421 L598,436 L608,451 L611,467M611,461 L626,445 L641,430 L667,424 L685,441M611,467 L621,494 L623,509 L620,516M515,514 L527,505 L553,505 L550,519 L565,525 L598,511 L620,511M620,511 L626,526 L623,548 L635,567 L629,584M515,514 L516,532 L501,545 L504,555 L498,566M498,566 L487,568 L466,586 L463,606M498,566 L505,569 L527,583 L542,592 L572,592 L595,586 L613,588 L630,583M380,602 L401,612 L427,622 L439,609 L454,608 L463,606M427,622 L427,634 L405,642 L410,654 L415,669 L412,693 L414,710M463,606 L473,632 L472,647 L488,642 L499,655 L507,668 L513,679 L533,676 L540,670 L554,665M539,592 L545,607 L540,630 L545,648 L554,665M554,665 L572,655 L587,650 L603,650 L621,642 L633,629 L644,617M630,583 L647,591 L648,606 L644,617M644,617 L657,621 L657,645 L648,659 L639,667 L636,679 L618,688 L615,703 L609,715M657,621 L672,610 L682,595 L706,577 L723,568 L735,569M732,572 L730,592 L736,606 L739,627 L750,633M639,667 L663,662 L679,652 L688,661 L688,667M554,665 L539,679 L537,694 L542,700 L563,709 L569,715M513,679 L505,682 L488,694 L481,696 L478,706 L470,725 L465,740M414,712 L440,706 L460,712 L478,706M702,514 L717,523 L723,532 L723,545 L733,560 L735,569M723,475 L720,484 L717,496 L705,503 L702,514M702,514 L670,523 L635,525 L620,516M685,441 L702,456 L714,472 L723,475M669,388 L698,403 L699,426 L685,441M666,380 L696,402 L711,392 L726,385 L757,400 L772,412 L787,415 L799,412 L803,389 L807,368M772,414 L768,423 L772,441 L760,453 L754,465 L742,475 L723,475M803,412 L815,426 L818,430M742,475 L754,487 L772,487 L781,490M723,545 L745,548 L770,545 L790,553M682,326 L676,344 L666,367 L666,383M663,314 L640,316 L620,323 L610,345 L602,375M610,277 L609,298 L613,314 L621,323 L632,314 L645,314 L663,314M639,285 L654,291 L676,305 L688,311M663,314 L676,324 L682,326M609,253 L606,265 L627,280 L639,285M657,238 L657,256 L651,268 L639,285M592,232 L606,236 L618,238 L624,245 L639,247 L645,239 L647,226M645,239 L657,238 L676,230 L685,224M682,326 L688,311 L697,326 L709,320 L711,298 L709,286 L724,276 L732,265 L735,256M735,253 L732,277 L739,298 L738,317 L755,335 L773,350 L782,367 L797,365 L806,371M822,256 L825,277 L826,298 L819,329 L806,344 L806,371 L809,383M807,368 L820,365 L835,360 L846,356 L864,356M879,280 L881,298 L878,317 L867,337 L864,356 L876,375 L880,376M881,298 L900,315 L920,330 L945,338" fill="none" stroke="#300020" stroke-opacity="0.55" stroke-width="1" stroke-linejoin="round" clip-path="url(#clipmL)"/>
<path d="M400.0,202.0 L438.0,202.0 L451.0,200.0 L459.0,197.0 L468.0,204.0 L490.0,207.0 L496.0,211.0 L531.0,218.6 L555.0,215.0 L571.5,212.0 L585.0,210.5 L591.6,215.0 L607.7,221.0 L629.0,215.0 L649.0,224.6 L681.5,219.0 L687.0,225.0 L705.7,227.0 L709.7,239.0 L721.8,244.8 L741.0,250.0 L753.7,260.5 L765.0,258.0 L784.0,268.6 L793.0,265.7 L818.8,267.4 L821.0,254.7 L843.0,260.0 L859.5,263.4 L866.5,283.7 L880.5,279.0 L894.0,283.0 L896.7,288.0 L910.7,282.0 L924.7,286.6 L936.0,281.4 L948.0,276.7 L961.9,279.0 L970.0,286.0 L964.0,291.9 L963.0,302.0 L967.7,312.8 L961.9,324.0 L943.0,332.6 L929.0,346.0 L911.0,360.0 L906.0,367.0 L879.5,375.0 L856.0,387.0 L841.0,395.0 L830.7,408.0 L839.0,413.7 L825.0,425.0 L816.7,431.0 L805.0,453.0 L791.0,472.0 L779.5,490.0 L773.7,504.0 L773.7,513.5 L779.5,530.0 L782.0,541.4 L791.0,553.0 L805.0,560.0 L806.0,563.5 L791.0,577.4 L773.7,585.6 L765.6,595.0 L763.5,605.0 L756.5,620.0 L750.7,629.5 L746.0,640.0 L753.0,647.0 L750.7,649.3 L727.4,654.0 L711.0,657.4 L699.5,666.7 L690.0,677.0 L684.4,694.7 L676.0,706.0 L670.5,715.6 L661.0,714.4 L653.0,708.6 L641.4,712.0 L633.0,719.0 L624.0,718.0 L607.7,713.0 L589.0,718.0 L571.6,715.6 L560.0,714.4 L550.8,715.4 L529.0,716.8 L515.7,727.6 L502.0,731.6 L482.0,738.4 L475.0,745.0 L469.7,758.6 L456.0,766.8 L442.7,761.4 L430.5,753.0 L421.0,738.0 L414.0,727.6 L407.6,714.0 L410.0,702.0 L400.8,691.0 L383.0,679.0 L367.0,676.0 L349.5,676.0 L348.0,664.0 L344.0,648.0 L349.5,634.0 L352.0,630.0 L362.0,615.0 L378.0,604.0 L369.3,600.0 L360.2,580.5 L364.7,561.0 L375.3,551.8 L381.4,536.7 L372.3,532.0 L366.0,524.6 L361.7,505.0 L351.0,490.6 L381.4,491.0 L383.0,479.0 L390.4,470.0 L383.0,456.6 L383.0,450.6 L394.7,442.5 L394.7,424.7 L397.0,405.6 L391.0,390.0 L398.5,386.5 L408.7,376.0 L422.7,368.7 L434.0,351.0 L420.0,344.5 L415.0,342.0 L415.0,324.0 L399.8,320.4 L382.0,320.4 L366.7,330.5 L354.0,328.0 L340.0,324.0 L324.0,327.9 L321.7,319.6 L327.7,310.7 L321.0,304.7 L308.3,307.7 L299.3,309.2 L291.9,316.7 L283.7,321.1 L283.7,303.2 L288.1,298.7 L300.1,287.5 L286.6,292.8 L288.9,286.8 L298.6,280.8 L288.1,280.0 L283.7,277.1 L287.4,273.3 L291.9,262.9 L279.9,271.8 L276.9,267.4 L279.9,259.9 L288.1,250.2 L277.7,255.4 L274.7,251.7 L274.0,244.2 L267.2,242.7 L268.0,236.0 L267.3,231.0 L273.2,222.7 L282.6,220.4 L285.5,215.6 L293.2,211.5 L298.5,216.2 L309.0,214.5 L316.0,210.4 L319.6,214.5 L320.8,209.8 L327.9,218.0 L328.5,209.0 L332.0,208.6 L323.2,206.2 L322.0,203.3 L332.0,201.5 L323.2,197.4 L337.3,191.5 L337.9,187.4 L347.3,183.3 L349.0,189.8 L351.4,186.8 L358.5,182.7 L362.0,185.0 L363.8,191.5 L369.0,187.4 L376.7,192.0 L381.4,199.8 L392.0,201.5ZM929.0,494.5 L938.0,485.6 L952.4,472.3 L966.8,465.6 L978.0,463.4 L971.3,472.3 L981.3,479.0 L986.9,475.6 L994.7,480.0 L991.3,491.2 L983.5,506.8 L972.4,515.7 L955.7,509.0 L952.4,497.9 L946.8,495.6 L939.0,503.4 L930.0,496.8ZM1011.4,455.6 L1028.0,450.0 L1037.0,456.7 L1043.6,465.6 L1041.4,470.0 L1028.0,463.4 L1013.6,462.3ZM865.6,543.5 L872.3,536.8 L883.4,531.3 L888.4,536.8 L884.5,543.5 L876.7,552.4 L866.7,551.3 L864.5,546.8ZM876.0,561.0 L880.0,562.0 L888.0,564.0 L886.0,567.0 L879.0,566.0 L876.0,566.0Z" fill="none" stroke="#000" stroke-width="1.5" stroke-linejoin="round"/>
<path d="M50.6,700.0 L62.0,701.8 L64.5,711.4 L61.0,723.6 L54.0,732.3 L48.8,718.4 L44.5,706.0Z" fill="#f8e400" stroke="#000" stroke-width="1"/>
<path d="M23.5,788.0 L30.5,787.3 L41.9,781.0 L44.5,784.7 L36.6,798.6 L33.0,793.4 L24.4,790.8Z" fill="#f8dc00" stroke="#000" stroke-width="1"/>
<path d="M118.6,749.8 L153.5,746.3 L165.7,736.7 L178.8,737.6 L178.0,742.0 L160.5,753.3 L153.5,770.7 L144.8,779.4 L132.6,780.3 L125.6,762.0Z" fill="#f0ec08" stroke="#000" stroke-width="1"/>
<path d="M293.0,789.9 L303.5,794.3 L314.0,784.7 L334.9,782.0 L341.0,762.0 L344.5,740.2 L335.8,740.2 L329.7,753.3 L319.2,770.7 L310.5,781.2 L296.5,789.0Z" fill="#f8d000" stroke="#000" stroke-width="1"/>
<path d="M342.8,730.6 L348.9,714.9 L364.6,711.4 L373.3,704.4 L378.5,708.0 L373.3,718.4 L362.8,725.4 L348.9,732.3Z" fill="#f4ec00" stroke="#000" stroke-width="1"/>
<ellipse cx="95" cy="766.3" rx="9" ry="8.4" fill="#f0e810" stroke="#000" stroke-width="1"/>
<path d="M206,775 L222,778 L227,790 L226,802 L211,811 L198,806 L194,792 L198,781Z" fill="#f8c810" stroke="#000" stroke-width="1"/>
<circle cx="373" cy="690" r="1.3" fill="none" stroke="#000" stroke-width="0.8"/><circle cx="371" cy="698" r="1.6" fill="none" stroke="#000" stroke-width="0.8"/>
<path d="M0,684 L381,684 L381,817" fill="none" stroke="#6a6a6a" stroke-width="2"/>
<path d="M469,776 L474,775 L475,779 L470,780Z" fill="#f0d020" stroke="#d8b000" stroke-width="0.6"/>
<rect x="107.00" y="830" width="29.27" height="14.5" fill="#7010b8"/>
<rect x="136.27" y="830" width="29.27" height="14.5" fill="#a020c8"/>
<rect x="165.55" y="830" width="29.27" height="14.5" fill="#d038d0"/>
<rect x="194.82" y="830" width="29.27" height="14.5" fill="#d060c8"/>
<rect x="224.09" y="830" width="29.27" height="14.5" fill="#c880b8"/>
<rect x="253.36" y="830" width="29.27" height="14.5" fill="#d0a0c0"/>
<rect x="282.64" y="830" width="29.27" height="14.5" fill="#d8b8c8"/>
<rect x="311.91" y="830" width="29.27" height="14.5" fill="#e0d0d8"/>
<rect x="341.18" y="830" width="29.27" height="14.5" fill="#e8e8e8"/>
<rect x="370.45" y="830" width="29.27" height="14.5" fill="#ffffff"/>
<rect x="399.73" y="830" width="29.27" height="14.5" fill="#000060"/>
<rect x="429.00" y="830" width="29.27" height="14.5" fill="#0818a8"/>
<rect x="458.27" y="830" width="29.27" height="14.5" fill="#1030e8"/>
<rect x="487.55" y="830" width="29.27" height="14.5" fill="#3060f0"/>
<rect x="516.82" y="830" width="29.27" height="14.5" fill="#70a0f0"/>
<rect x="546.09" y="830" width="29.27" height="14.5" fill="#00f0f0"/>
<rect x="575.36" y="830" width="29.27" height="14.5" fill="#20d8d0"/>
<rect x="604.64" y="830" width="29.27" height="14.5" fill="#20c8c0"/>
<rect x="633.91" y="830" width="29.27" height="14.5" fill="#20b0a0"/>
<rect x="663.18" y="830" width="29.27" height="14.5" fill="#78f810"/>
<rect x="692.45" y="830" width="29.27" height="14.5" fill="#d8f808"/>
<rect x="721.73" y="830" width="29.27" height="14.5" fill="#fff800"/>
<rect x="751.00" y="830" width="29.27" height="14.5" fill="#f8d800"/>
<rect x="780.27" y="830" width="29.27" height="14.5" fill="#f8c000"/>
<rect x="809.55" y="830" width="29.27" height="14.5" fill="#f8a810"/>
<rect x="838.82" y="830" width="29.27" height="14.5" fill="#f88010"/>
<rect x="868.09" y="830" width="29.27" height="14.5" fill="#f80000"/>
<rect x="897.36" y="830" width="29.27" height="14.5" fill="#f808e8"/>
<rect x="926.64" y="830" width="29.27" height="14.5" fill="#e008b8"/>
<rect x="955.91" y="830" width="29.27" height="14.5" fill="#d00090"/>
<rect x="985.18" y="830" width="29.27" height="14.5" fill="#b80068"/>
<rect x="1014.45" y="830" width="29.27" height="14.5" fill="#a00048"/>
<rect x="1043.73" y="830" width="29.27" height="14.5" fill="#8c1820"/>
<line x1="107.00" y1="830" x2="107.00" y2="844.5" stroke="#000" stroke-width="1"/>
<line x1="136.27" y1="830" x2="136.27" y2="844.5" stroke="#000" stroke-width="1"/>
<line x1="165.55" y1="830" x2="165.55" y2="844.5" stroke="#000" stroke-width="1"/>
<line x1="194.82" y1="830" x2="194.82" y2="844.5" stroke="#000" stroke-width="1"/>
<line x1="224.09" y1="830" x2="224.09" y2="844.5" stroke="#000" stroke-width="1"/>
<line x1="253.36" y1="830" x2="253.36" y2="844.5" stroke="#000" stroke-width="1"/>
<line x1="282.64" y1="830" x2="282.64" y2="844.5" stroke="#000" stroke-width="1"/>
<line x1="311.91" y1="830" x2="311.91" y2="844.5" stroke="#000" stroke-width="1"/>
<line x1="341.18" y1="830" x2="341.18" y2="844.5" stroke="#000" stroke-width="1"/>
<line x1="370.45" y1="830" x2="370.45" y2="844.5" stroke="#000" stroke-width="1"/>
<line x1="399.73" y1="830" x2="399.73" y2="844.5" stroke="#000" stroke-width="1"/>
<line x1="429.00" y1="830" x2="429.00" y2="844.5" stroke="#000" stroke-width="1"/>
<line x1="458.27" y1="830" x2="458.27" y2="844.5" stroke="#000" stroke-width="1"/>
<line x1="487.55" y1="830" x2="487.55" y2="844.5" stroke="#000" stroke-width="1"/>
<line x1="516.82" y1="830" x2="516.82" y2="844.5" stroke="#000" stroke-width="1"/>
<line x1="546.09" y1="830" x2="546.09" y2="844.5" stroke="#000" stroke-width="1"/>
<line x1="575.36" y1="830" x2="575.36" y2="844.5" stroke="#000" stroke-width="1"/>
<line x1="604.64" y1="830" x2="604.64" y2="844.5" stroke="#000" stroke-width="1"/>
<line x1="633.91" y1="830" x2="633.91" y2="844.5" stroke="#000" stroke-width="1"/>
<line x1="663.18" y1="830" x2="663.18" y2="844.5" stroke="#000" stroke-width="1"/>
<line x1="692.45" y1="830" x2="692.45" y2="844.5" stroke="#000" stroke-width="1"/>
<line x1="721.73" y1="830" x2="721.73" y2="844.5" stroke="#000" stroke-width="1"/>
<line x1="751.00" y1="830" x2="751.00" y2="844.5" stroke="#000" stroke-width="1"/>
<line x1="780.27" y1="830" x2="780.27" y2="844.5" stroke="#000" stroke-width="1"/>
<line x1="809.55" y1="830" x2="809.55" y2="844.5" stroke="#000" stroke-width="1"/>
<line x1="838.82" y1="830" x2="838.82" y2="844.5" stroke="#000" stroke-width="1"/>
<line x1="868.09" y1="830" x2="868.09" y2="844.5" stroke="#000" stroke-width="1"/>
<line x1="897.36" y1="830" x2="897.36" y2="844.5" stroke="#000" stroke-width="1"/>
<line x1="926.64" y1="830" x2="926.64" y2="844.5" stroke="#000" stroke-width="1"/>
<line x1="955.91" y1="830" x2="955.91" y2="844.5" stroke="#000" stroke-width="1"/>
<line x1="985.18" y1="830" x2="985.18" y2="844.5" stroke="#000" stroke-width="1"/>
<line x1="1014.45" y1="830" x2="1014.45" y2="844.5" stroke="#000" stroke-width="1"/>
<line x1="1043.73" y1="830" x2="1043.73" y2="844.5" stroke="#000" stroke-width="1"/>
<line x1="1073.00" y1="830" x2="1073.00" y2="844.5" stroke="#000" stroke-width="1"/>
<rect x="107" y="830" width="966" height="14.5" fill="none" stroke="#000" stroke-width="1.2"/>
<text x="107.00" y="827.8" class="lab">-30</text>
<text x="136.27" y="827.8" class="lab">-18</text>
<text x="165.55" y="827.8" class="lab">-16</text>
<text x="194.82" y="827.8" class="lab">-14</text>
<text x="224.09" y="827.8" class="lab">-12</text>
<text x="253.36" y="827.8" class="lab">-10</text>
<text x="282.64" y="827.8" class="lab">-8</text>
<text x="311.91" y="827.8" class="lab">-6</text>
<text x="341.18" y="827.8" class="lab">-4</text>
<text x="370.45" y="827.8" class="lab">-2</text>
<text x="399.73" y="827.8" class="lab">0</text>
<text x="429.00" y="827.8" class="lab">2</text>
<text x="458.27" y="827.8" class="lab">4</text>
<text x="487.55" y="827.8" class="lab">6</text>
<text x="516.82" y="827.8" class="lab">8</text>
<text x="546.09" y="827.8" class="lab">10</text>
<text x="575.36" y="827.8" class="lab">12</text>
<text x="604.64" y="827.8" class="lab">14</text>
<text x="633.91" y="827.8" class="lab">16</text>
<text x="663.18" y="827.8" class="lab">18</text>
<text x="692.45" y="827.8" class="lab">20</text>
<text x="721.73" y="827.8" class="lab">22</text>
<text x="751.00" y="827.8" class="lab">24</text>
<text x="780.27" y="827.8" class="lab">26</text>
<text x="809.55" y="827.8" class="lab">28</text>
<text x="838.82" y="827.8" class="lab">30</text>
<text x="868.09" y="827.8" class="lab">32</text>
<text x="897.36" y="827.8" class="lab">34</text>
<text x="926.64" y="827.8" class="lab">36</text>
<text x="955.91" y="827.8" class="lab">38</text>
<text x="985.18" y="827.8" class="lab">40</text>
<text x="1014.45" y="827.8" class="lab">42</text>
<text x="1043.73" y="827.8" class="lab">44</text>
<text x="1073.00" y="827.8" class="lab">50</text>
<text x="239.4" y="171" class="tit" textLength="573.6" lengthAdjust="spacingAndGlyphs">Temperatura máxima (ºC) prevista para el miércoles 15 de junio de 2022</text>
<text x="404.3" y="186.6" class="sub" textLength="410" lengthAdjust="spacingAndGlyphs">Fuente de datos: Predicción por municipios. AEMET OpenData</text>
<text x="767" y="796.5" class="cr1" textLength="195" lengthAdjust="spacingAndGlyphs">http://climaenmapas.blogspot.com</text>
<text x="767" y="809.5" class="cr2" textLength="294.5" lengthAdjust="spacingAndGlyphs">César Rodríguez Ballesteros, twitter: @crballesteros</text></g>
<g transform="translate(1154,-2)"><clipPath id="clipmR"><path d="M400.0,202.0 L438.0,202.0 L451.0,200.0 L459.0,197.0 L468.0,204.0 L490.0,207.0 L496.0,211.0 L531.0,218.6 L555.0,215.0 L571.5,212.0 L585.0,210.5 L591.6,215.0 L607.7,221.0 L629.0,215.0 L649.0,224.6 L681.5,219.0 L687.0,225.0 L705.7,227.0 L709.7,239.0 L721.8,244.8 L741.0,250.0 L753.7,260.5 L765.0,258.0 L784.0,268.6 L793.0,265.7 L818.8,267.4 L821.0,254.7 L843.0,260.0 L859.5,263.4 L866.5,283.7 L880.5,279.0 L894.0,283.0 L896.7,288.0 L910.7,282.0 L924.7,286.6 L936.0,281.4 L948.0,276.7 L961.9,279.0 L970.0,286.0 L964.0,291.9 L963.0,302.0 L967.7,312.8 L961.9,324.0 L943.0,332.6 L929.0,346.0 L911.0,360.0 L906.0,367.0 L879.5,375.0 L856.0,387.0 L841.0,395.0 L830.7,408.0 L839.0,413.7 L825.0,425.0 L816.7,431.0 L805.0,453.0 L791.0,472.0 L779.5,490.0 L773.7,504.0 L773.7,513.5 L779.5,530.0 L782.0,541.4 L791.0,553.0 L805.0,560.0 L806.0,563.5 L791.0,577.4 L773.7,585.6 L765.6,595.0 L763.5,605.0 L756.5,620.0 L750.7,629.5 L746.0,640.0 L753.0,647.0 L750.7,649.3 L727.4,654.0 L711.0,657.4 L699.5,666.7 L690.0,677.0 L684.4,694.7 L676.0,706.0 L670.5,715.6 L661.0,714.4 L653.0,708.6 L641.4,712.0 L633.0,719.0 L624.0,718.0 L607.7,713.0 L589.0,718.0 L571.6,715.6 L560.0,714.4 L550.8,715.4 L529.0,716.8 L515.7,727.6 L502.0,731.6 L482.0,738.4 L475.0,745.0 L469.7,758.6 L456.0,766.8 L442.7,761.4 L430.5,753.0 L421.0,738.0 L414.0,727.6 L407.6,714.0 L410.0,702.0 L400.8,691.0 L383.0,679.0 L367.0,676.0 L349.5,676.0 L348.0,664.0 L344.0,648.0 L349.5,634.0 L352.0,630.0 L362.0,615.0 L378.0,604.0 L369.3,600.0 L360.2,580.5 L364.7,561.0 L375.3,551.8 L381.4,536.7 L372.3,532.0 L366.0,524.6 L361.7,505.0 L351.0,490.6 L381.4,491.0 L383.0,479.0 L390.4,470.0 L383.0,456.6 L383.0,450.6 L394.7,442.5 L394.7,424.7 L397.0,405.6 L391.0,390.0 L398.5,386.5 L408.7,376.0 L422.7,368.7 L434.0,351.0 L420.0,344.5 L415.0,342.0 L415.0,324.0 L399.8,320.4 L382.0,320.4 L366.7,330.5 L354.0,328.0 L340.0,324.0 L324.0,327.9 L321.7,319.6 L327.7,310.7 L321.0,304.7 L308.3,307.7 L299.3,309.2 L291.9,316.7 L283.7,321.1 L283.7,303.2 L288.1,298.7 L300.1,287.5 L286.6,292.8 L288.9,286.8 L298.6,280.8 L288.1,280.0 L283.7,277.1 L287.4,273.3 L291.9,262.9 L279.9,271.8 L276.9,267.4 L279.9,259.9 L288.1,250.2 L277.7,255.4 L274.7,251.7 L274.0,244.2 L267.2,242.7 L268.0,236.0 L267.3,231.0 L273.2,222.7 L282.6,220.4 L285.5,215.6 L293.2,211.5 L298.5,216.2 L309.0,214.5 L316.0,210.4 L319.6,214.5 L320.8,209.8 L327.9,218.0 L328.5,209.0 L332.0,208.6 L323.2,206.2 L322.0,203.3 L332.0,201.5 L323.2,197.4 L337.3,191.5 L337.9,187.4 L347.3,183.3 L349.0,189.8 L351.4,186.8 L358.5,182.7 L362.0,185.0 L363.8,191.5 L369.0,187.4 L376.7,192.0 L381.4,199.8 L392.0,201.5ZM929.0,494.5 L938.0,485.6 L952.4,472.3 L966.8,465.6 L978.0,463.4 L971.3,472.3 L981.3,479.0 L986.9,475.6 L994.7,480.0 L991.3,491.2 L983.5,506.8 L972.4,515.7 L955.7,509.0 L952.4,497.9 L946.8,495.6 L939.0,503.4 L930.0,496.8ZM1011.4,455.6 L1028.0,450.0 L1037.0,456.7 L1043.6,465.6 L1041.4,470.0 L1028.0,463.4 L1013.6,462.3ZM865.6,543.5 L872.3,536.8 L883.4,531.3 L888.4,536.8 L884.5,543.5 L876.7,552.4 L866.7,551.3 L864.5,546.8ZM876.0,561.0 L880.0,562.0 L888.0,564.0 L886.0,567.0 L879.0,566.0 L876.0,566.0Z"/></clipPath>
<g clip-path="url(#clipmR)"><g filter="url(#wob)">
<rect x="240" y="160" width="840" height="640" fill="#f8c000"/>
<path d="M340.0,530.0 C366.7,503.3 471.7,511.7 500.0,530.0 C528.3,548.3 513.3,611.7 510.0,640.0 C506.7,668.3 485.0,678.3 480.0,700.0 C475.0,721.7 493.3,758.3 480.0,770.0 C466.7,781.7 423.3,783.3 400.0,770.0 C376.7,756.7 350.0,730.0 340.0,690.0 C330.0,650.0 313.3,556.7 340.0,530.0Z" fill="#f8c800" filter="url(#bl8)"/>
<path d="M260.0,175.0 C285.0,149.2 375.0,175.8 420.0,180.0 C465.0,184.2 506.7,192.3 530.0,200.0 C553.3,207.7 556.3,211.0 560.0,226.0 C563.7,241.0 558.7,277.7 552.0,290.0 C545.3,302.3 531.5,298.3 520.0,300.0 C508.5,301.7 489.2,286.5 483.0,300.0 C476.8,313.5 481.2,366.7 483.0,381.0 C484.8,395.3 486.7,384.5 494.0,386.0 C501.3,387.5 519.3,377.7 527.0,390.0 C534.7,402.3 547.8,446.7 540.0,460.0 C532.2,473.3 500.0,469.7 480.0,470.0 C460.0,470.3 435.0,464.5 420.0,462.0 C405.0,459.5 396.7,465.3 390.0,455.0 C383.3,444.7 379.2,420.8 380.0,400.0 C380.8,379.2 403.3,340.8 395.0,330.0 C386.7,319.2 350.8,334.2 330.0,335.0 C309.2,335.8 281.7,361.7 270.0,335.0 C258.3,308.3 235.0,200.8 260.0,175.0Z" fill="#d0f808" filter="url(#bl4)"/>
<path d="M262.0,195.0 C284.5,182.5 355.3,183.3 400.0,185.0 C444.7,186.7 508.7,192.2 530.0,205.0 C551.3,217.8 538.0,251.5 528.0,262.0 C518.0,272.5 491.3,268.0 470.0,268.0 C448.7,268.0 420.0,258.3 400.0,262.0 C380.0,265.7 366.7,285.3 350.0,290.0 C333.3,294.7 314.2,295.0 300.0,290.0 C285.8,285.0 271.3,275.8 265.0,260.0 C258.7,244.2 239.5,207.5 262.0,195.0Z" fill="#80f010" filter="url(#sp2)"/>
<path d="M268.0,205.0 C279.7,195.0 327.7,182.5 340.0,190.0 C352.3,197.5 348.7,238.0 342.0,250.0 C335.3,262.0 312.0,262.0 300.0,262.0 C288.0,262.0 275.3,259.5 270.0,250.0 C264.7,240.5 256.3,215.0 268.0,205.0Z" fill="#80f010" filter="url(#sp)"/>
<path d="M390.0,205.0 C410.0,199.7 498.3,202.2 520.0,208.0 C541.7,213.8 540.0,234.7 520.0,240.0 C500.0,245.3 421.7,245.8 400.0,240.0 C378.3,234.2 370.0,210.3 390.0,205.0Z" fill="#80f010" filter="url(#sp)"/>
<path d="M342.0,195.0 C351.2,182.5 390.3,183.8 400.0,195.0 C409.7,206.2 405.0,247.0 400.0,262.0 C395.0,277.0 379.2,283.7 370.0,285.0 C360.8,286.3 349.7,285.0 345.0,270.0 C340.3,255.0 332.8,207.5 342.0,195.0Z" fill="#80f010" filter="url(#bl5)"/>
<path d="M284.0,262.0 C292.7,252.3 332.3,252.3 342.0,262.0 C351.7,271.7 350.7,310.3 342.0,320.0 C333.3,329.7 299.7,329.7 290.0,320.0 C280.3,310.3 275.3,271.7 284.0,262.0Z" fill="#f8f400" filter="url(#sp)"/>
<path d="M325.0,285.0 C335.8,278.0 382.5,280.8 395.0,288.0 C407.5,295.2 410.8,321.0 400.0,328.0 C389.2,335.0 342.5,337.2 330.0,330.0 C317.5,322.8 314.2,292.0 325.0,285.0Z" fill="#f8f400" filter="url(#sp)"/>
<path d="M400.0,265.0 C417.0,258.7 489.2,254.3 507.0,262.0 C524.8,269.7 516.5,302.8 507.0,311.0 C497.5,319.2 467.0,312.8 450.0,311.0 C433.0,309.2 413.3,307.7 405.0,300.0 C396.7,292.3 383.0,271.3 400.0,265.0Z" fill="#f8f400" filter="url(#bl5)"/>
<path d="M352.0,200.0 C356.3,195.0 376.3,193.3 382.0,198.0 C387.7,202.7 390.3,223.0 386.0,228.0 C381.7,233.0 361.7,232.7 356.0,228.0 C350.3,223.3 347.7,205.0 352.0,200.0Z" fill="#20b8a8" filter="url(#sp)"/>
<path d="M368.0,250.0 C372.3,244.7 393.0,244.7 398.0,250.0 C403.0,255.3 402.3,276.7 398.0,282.0 C393.7,287.3 377.0,287.3 372.0,282.0 C367.0,276.7 363.7,255.3 368.0,250.0Z" fill="#20b8a8" filter="url(#sp)"/>
<path d="M360.0,289.0 C363.2,285.0 377.5,285.0 381.0,289.0 C384.5,293.0 384.2,309.0 381.0,313.0 C377.8,317.0 365.5,317.0 362.0,313.0 C358.5,309.0 356.8,293.0 360.0,289.0Z" fill="#20b8a8" filter="url(#sp2)"/>
<path d="M420.0,238.0 C433.3,233.3 495.0,235.7 510.0,240.0 C525.0,244.3 523.3,259.3 510.0,264.0 C496.7,268.7 445.0,272.3 430.0,268.0 C415.0,263.7 406.7,242.7 420.0,238.0Z" fill="#20b8a8" filter="url(#sp)"/>
<path d="M403.0,278.0 C407.3,273.3 427.2,273.3 432.0,278.0 C436.8,282.7 436.3,301.3 432.0,306.0 C427.7,310.7 410.8,310.7 406.0,306.0 C401.2,301.3 398.7,282.7 403.0,278.0Z" fill="#20b8a8" filter="url(#sp2)"/>
<path d="M386.0,296.0 C390.7,291.3 411.0,291.3 416.0,296.0 C421.0,300.7 420.7,319.3 416.0,324.0 C411.3,328.7 393.0,328.7 388.0,324.0 C383.0,319.3 381.3,300.7 386.0,296.0Z" fill="#20b8a8" filter="url(#sp)"/>
<path d="M393.0,303.0 C395.3,300.7 406.3,300.7 409.0,303.0 C411.7,305.3 411.3,314.7 409.0,317.0 C406.7,319.3 397.7,319.3 395.0,317.0 C392.3,314.7 390.7,305.3 393.0,303.0Z" fill="#10d8d8" filter="url(#bl2)"/>
<path d="M414.0,312.0 C419.3,306.8 442.3,306.8 448.0,312.0 C453.7,317.2 453.3,337.8 448.0,343.0 C442.7,348.2 421.7,348.2 416.0,343.0 C410.3,337.8 408.7,317.2 414.0,312.0Z" fill="#80f010" filter="url(#sp)"/>
<path d="M525.0,214.0 C534.2,209.7 575.0,209.7 585.0,214.0 C595.0,218.3 594.2,235.7 585.0,240.0 C575.8,244.3 540.0,244.3 530.0,240.0 C520.0,235.7 515.8,218.3 525.0,214.0Z" fill="#f8f400" filter="url(#bl5)"/>
<path d="M507.0,238.0 C514.0,227.7 544.5,227.7 552.0,238.0 C559.5,248.3 559.0,289.7 552.0,300.0 C545.0,310.3 517.5,310.3 510.0,300.0 C502.5,289.7 500.0,248.3 507.0,238.0Z" fill="#d0f808" filter="url(#bl5)"/>
<path d="M507.0,290.0 C514.0,285.3 544.5,285.3 552.0,290.0 C559.5,294.7 559.0,313.3 552.0,318.0 C545.0,322.7 517.5,322.7 510.0,318.0 C502.5,313.3 500.0,294.7 507.0,290.0Z" fill="#f8f400" filter="url(#bl5)"/>
<path d="M483.0,296.0 C505.3,281.2 594.7,276.5 617.0,292.0 C639.3,307.5 632.0,372.8 617.0,389.0 C602.0,405.2 547.5,389.5 527.0,389.0 C506.5,388.5 501.3,387.3 494.0,386.0 C486.7,384.7 484.8,396.0 483.0,381.0 C481.2,366.0 460.7,310.8 483.0,296.0Z" fill="#f8dc00" filter="url(#bl6)"/>
<path d="M519.0,380.0 C529.0,373.0 578.2,374.7 590.0,382.0 C601.8,389.3 600.0,417.0 590.0,424.0 C580.0,431.0 541.8,431.3 530.0,424.0 C518.2,416.7 509.0,387.0 519.0,380.0Z" fill="#f8f400" filter="url(#bl5)"/>
<path d="M400.0,386.0 C403.8,382.7 420.8,386.0 425.0,390.0 C429.2,394.0 428.8,406.7 425.0,410.0 C421.2,413.3 406.2,414.0 402.0,410.0 C397.8,406.0 396.2,389.3 400.0,386.0Z" fill="#f8f400" filter="url(#bl4)"/>
<path d="M408.0,410.0 C417.2,403.3 459.7,403.3 470.0,410.0 C480.3,416.7 479.2,443.3 470.0,450.0 C460.8,456.7 425.3,456.7 415.0,450.0 C404.7,443.3 398.8,416.7 408.0,410.0Z" fill="#80f010" filter="url(#sp2)"/>
<path d="M442.0,432.0 C453.5,426.3 506.2,424.7 519.0,430.0 C531.8,435.3 530.5,458.3 519.0,464.0 C507.5,469.7 462.8,469.3 450.0,464.0 C437.2,458.7 430.5,437.7 442.0,432.0Z" fill="#20b8a8" filter="url(#sp)"/>
<path d="M350.0,452.0 C372.2,438.7 469.2,441.2 493.0,455.0 C516.8,468.8 515.2,521.7 493.0,535.0 C470.8,548.3 383.8,548.8 360.0,535.0 C336.2,521.2 327.8,465.3 350.0,452.0Z" fill="#f8d400" filter="url(#bl7)"/>
<path d="M476.0,453.0 C496.3,442.2 589.3,442.2 612.0,453.0 C634.7,463.8 632.3,507.2 612.0,518.0 C591.7,528.8 512.7,528.8 490.0,518.0 C467.3,507.2 455.7,463.8 476.0,453.0Z" fill="#f8a810" filter="url(#bl7)"/>
<path d="M556.0,400.0 C567.2,388.8 602.7,382.2 612.0,392.0 C621.3,401.8 623.2,447.8 612.0,459.0 C600.8,470.2 554.3,468.8 545.0,459.0 C535.7,449.2 544.8,411.2 556.0,400.0Z" fill="#f8a810" filter="url(#bl6)"/>
<path d="M519.0,380.0 C527.8,373.8 564.8,373.0 575.0,378.0 C585.2,383.0 585.8,402.3 580.0,410.0 C574.2,417.7 549.7,423.2 540.0,424.0 C530.3,424.8 525.5,422.3 522.0,415.0 C518.5,407.7 510.2,386.2 519.0,380.0Z" fill="#f8e400" filter="url(#bl5)"/>
<path d="M612.0,424.0 C627.0,408.3 702.0,408.3 720.0,424.0 C738.0,439.7 735.0,502.3 720.0,518.0 C705.0,533.7 648.0,533.7 630.0,518.0 C612.0,502.3 597.0,439.7 612.0,424.0Z" fill="#f8a810" filter="url(#bl6)"/>
<path d="M630.0,440.0 C638.3,430.0 680.0,430.0 690.0,440.0 C700.0,450.0 698.3,490.0 690.0,500.0 C681.7,510.0 650.0,510.0 640.0,500.0 C630.0,490.0 621.7,450.0 630.0,440.0Z" fill="#f88010" filter="url(#bl8)"/>
<path d="M502.0,510.0 C521.8,495.7 607.8,495.7 629.0,510.0 C650.2,524.3 648.8,581.7 629.0,596.0 C609.2,610.3 531.2,610.3 510.0,596.0 C488.8,581.7 482.2,524.3 502.0,510.0Z" fill="#f8a810" filter="url(#bl7)"/>
<path d="M587.0,515.0 C593.5,509.3 622.0,509.3 629.0,515.0 C636.0,520.7 635.5,543.3 629.0,549.0 C622.5,554.7 597.0,554.7 590.0,549.0 C583.0,543.3 580.5,520.7 587.0,515.0Z" fill="#f88010" filter="url(#bl4)"/>
<path d="M634.0,521.0 C635.8,519.2 644.0,519.2 646.0,521.0 C648.0,522.8 647.8,530.2 646.0,532.0 C644.2,533.8 637.0,533.8 635.0,532.0 C633.0,530.2 632.2,522.8 634.0,521.0Z" fill="#f80000" filter="url(#bl1)"/>
<path d="M544.0,596.0 C557.2,587.5 614.8,587.5 629.0,596.0 C643.2,604.5 642.2,638.5 629.0,647.0 C615.8,655.5 564.2,655.5 550.0,647.0 C535.8,638.5 530.8,604.5 544.0,596.0Z" fill="#f8a810" filter="url(#bl6)"/>
<path d="M560.0,605.0 C569.2,599.2 610.8,599.2 620.0,605.0 C629.2,610.8 624.2,634.2 615.0,640.0 C605.8,645.8 574.2,645.8 565.0,640.0 C555.8,634.2 550.8,610.8 560.0,605.0Z" fill="#f88010" filter="url(#bl6)"/>
<path d="M425.0,647.0 C438.3,638.5 495.8,638.5 510.0,647.0 C524.2,655.5 523.3,689.5 510.0,698.0 C496.7,706.5 444.2,706.5 430.0,698.0 C415.8,689.5 411.7,655.5 425.0,647.0Z" fill="#f8a810" filter="url(#bl6)"/>
<path d="M600.0,217.0 C612.5,205.3 670.8,205.3 685.0,217.0 C699.2,228.7 697.5,275.3 685.0,287.0 C672.5,298.7 624.2,298.7 610.0,287.0 C595.8,275.3 587.5,228.7 600.0,217.0Z" fill="#f8a810" filter="url(#bl5)"/>
<path d="M610.0,225.0 C617.5,217.3 651.3,215.3 660.0,222.0 C668.7,228.7 669.5,257.3 662.0,265.0 C654.5,272.7 623.7,274.7 615.0,268.0 C606.3,261.3 602.5,232.7 610.0,225.0Z" fill="#f8c000" filter="url(#bl5)"/>
<path d="M650.0,255.0 C654.2,249.3 674.7,245.8 680.0,250.0 C685.3,254.2 686.2,274.3 682.0,280.0 C677.8,285.7 660.3,288.2 655.0,284.0 C649.7,279.8 645.8,260.7 650.0,255.0Z" fill="#f88010" filter="url(#bl4)"/>
<path d="M580.0,214.0 C585.8,209.7 614.2,209.7 620.0,214.0 C625.8,218.3 620.8,235.7 615.0,240.0 C609.2,244.3 590.8,244.3 585.0,240.0 C579.2,235.7 574.2,218.3 580.0,214.0Z" fill="#f8d400" filter="url(#bl4)"/>
<path d="M630.0,287.0 C630.2,277.8 648.0,267.3 656.0,260.0 C664.0,252.7 669.2,245.0 678.0,243.0 C686.8,241.0 699.5,244.8 709.0,248.0 C718.5,251.2 729.8,255.0 735.0,262.0 C740.2,269.0 735.7,285.0 740.0,290.0 C744.3,295.0 753.2,294.5 761.0,292.0 C768.8,289.5 779.8,275.7 787.0,275.0 C794.2,274.3 798.3,284.2 804.0,288.0 C809.7,291.8 815.3,297.3 821.0,298.0 C826.7,298.7 829.5,290.8 838.0,292.0 C846.5,293.2 865.0,301.2 872.0,305.0 C879.0,308.8 875.5,315.5 880.0,315.0 C884.5,314.5 892.3,307.5 899.0,302.0 C905.7,296.5 911.5,286.5 920.0,282.0 C928.5,277.5 942.0,271.7 950.0,275.0 C958.0,278.3 967.2,292.8 968.0,302.0 C968.8,311.2 962.2,322.8 955.0,330.0 C947.8,337.2 933.2,339.7 925.0,345.0 C916.8,350.3 913.5,356.8 906.0,362.0 C898.5,367.2 889.0,374.3 880.0,376.0 C871.0,377.7 861.8,371.0 852.0,372.0 C842.2,373.0 829.0,377.8 821.0,382.0 C813.0,386.2 810.2,393.0 804.0,397.0 C797.8,401.0 792.5,405.8 784.0,406.0 C775.5,406.2 763.8,400.7 753.0,398.0 C742.2,395.3 731.2,392.7 719.0,390.0 C706.8,387.3 686.8,389.5 680.0,382.0 C673.2,374.5 679.3,354.5 678.0,345.0 C676.7,335.5 675.8,330.0 672.0,325.0 C668.2,320.0 662.0,321.3 655.0,315.0 C648.0,308.7 629.8,296.2 630.0,287.0Z" fill="#f80000" filter="url(#sp)"/>
<path d="M636.0,287.0 C635.3,278.8 649.0,270.5 656.0,264.0 C663.0,257.5 669.2,249.8 678.0,248.0 C686.8,246.2 700.2,250.2 709.0,253.0 C717.8,255.8 726.3,258.5 731.0,265.0 C735.7,271.5 732.0,286.8 737.0,292.0 C742.0,297.2 752.7,298.0 761.0,296.0 C769.3,294.0 779.8,280.7 787.0,280.0 C794.2,279.3 798.3,288.3 804.0,292.0 C809.7,295.7 815.3,301.3 821.0,302.0 C826.7,302.7 829.5,294.7 838.0,296.0 C846.5,297.3 865.0,306.0 872.0,310.0 C879.0,314.0 875.5,320.7 880.0,320.0 C884.5,319.3 892.3,311.7 899.0,306.0 C905.7,300.3 911.5,290.3 920.0,286.0 C928.5,281.7 942.7,277.3 950.0,280.0 C957.3,282.7 963.7,294.0 964.0,302.0 C964.3,310.0 958.7,321.5 952.0,328.0 C945.3,334.5 931.7,336.0 924.0,341.0 C916.3,346.0 913.3,352.8 906.0,358.0 C898.7,363.2 889.0,370.3 880.0,372.0 C871.0,373.7 861.8,367.0 852.0,368.0 C842.2,369.0 829.0,373.8 821.0,378.0 C813.0,382.2 810.2,389.0 804.0,393.0 C797.8,397.0 792.5,401.8 784.0,402.0 C775.5,402.2 763.8,396.8 753.0,394.0 C742.2,391.2 730.8,387.8 719.0,385.0 C707.2,382.2 687.8,383.7 682.0,377.0 C676.2,370.3 685.0,353.7 684.0,345.0 C683.0,336.3 680.0,330.3 676.0,325.0 C672.0,319.7 666.7,319.3 660.0,313.0 C653.3,306.7 636.7,295.2 636.0,287.0Z" fill="#f80000" filter="url(#bl2)"/>
<path d="M642.5,287.0 C644.8,282.8 650.1,274.2 656.0,268.5 C661.9,262.8 669.2,254.8 678.0,253.0 C686.8,251.2 700.5,255.4 709.0,258.0 C717.5,260.6 725.0,262.5 729.0,268.5 C733.0,274.5 727.6,288.6 733.0,294.0 C738.4,299.4 752.6,302.7 761.6,301.0 C770.6,299.3 779.9,284.6 787.0,284.0 C794.1,283.4 798.3,293.6 804.0,297.5 C809.7,301.4 815.3,307.1 821.0,307.7 C826.7,308.3 829.5,299.9 838.0,301.0 C846.5,302.1 864.9,310.6 872.0,314.5 C879.1,318.4 876.2,325.3 880.7,324.7 C885.2,324.1 892.5,316.7 899.0,311.0 C905.5,305.3 911.7,295.2 920.0,290.7 C928.3,286.2 941.9,282.0 948.7,284.0 C955.5,286.0 960.6,295.8 960.6,302.6 C960.6,309.4 955.0,319.0 948.7,324.7 C942.4,330.4 930.1,331.8 923.0,336.6 C915.9,341.4 913.0,348.5 906.0,353.6 C899.0,358.7 886.9,367.0 880.7,367.0 C874.5,367.0 873.6,354.4 868.8,353.6 C864.0,352.8 859.7,358.9 851.7,362.0 C843.7,365.1 829.0,367.7 821.0,372.0 C813.0,376.3 810.2,383.6 804.0,387.6 C797.8,391.6 792.2,396.0 783.7,396.0 C775.2,396.0 763.8,390.4 753.0,387.6 C742.2,384.8 730.3,381.8 719.0,379.0 C707.7,376.2 690.1,376.3 685.0,370.6 C679.9,364.9 689.1,352.6 688.5,345.0 C687.9,337.4 685.6,330.4 681.6,324.7 C677.6,319.0 671.1,316.1 664.6,311.0 C658.1,305.9 646.2,298.0 642.5,294.0 C638.8,290.0 640.2,291.2 642.5,287.0Z" fill="#f008e0" filter="url(#bl2)"/>
<path d="M710.0,331.0 C716.3,326.3 745.8,326.3 753.0,331.0 C760.2,335.7 759.3,354.3 753.0,359.0 C746.7,363.7 722.2,363.7 715.0,359.0 C707.8,354.3 703.7,335.7 710.0,331.0Z" fill="#e808c8" filter="url(#bl6)"/>
<path d="M720.0,240.0 C742.8,238.8 827.5,250.0 870.0,255.0 C912.5,260.0 957.5,263.8 975.0,270.0 C992.5,276.2 979.2,290.0 975.0,292.0 C970.8,294.0 959.2,282.3 950.0,282.0 C940.8,281.7 931.7,285.0 920.0,290.0 C908.3,295.0 893.7,310.7 880.0,312.0 C866.3,313.3 850.7,301.3 838.0,298.0 C825.3,294.7 812.5,296.3 804.0,292.0 C795.5,287.7 794.2,272.0 787.0,272.0 C779.8,272.0 768.8,289.3 761.0,292.0 C753.2,294.7 744.7,293.0 740.0,288.0 C735.3,283.0 736.3,270.0 733.0,262.0 C729.7,254.0 697.2,241.2 720.0,240.0Z" fill="#f8a810" filter="url(#bl3)"/>
<path d="M821.0,257.0 C827.2,252.8 857.7,257.0 865.0,262.0 C872.3,267.0 871.2,282.8 865.0,287.0 C858.8,291.2 835.3,292.0 828.0,287.0 C820.7,282.0 814.8,261.2 821.0,257.0Z" fill="#f8f400" filter="url(#bl3)"/>
<path d="M745.0,258.0 C754.2,254.7 803.3,258.3 815.0,262.0 C826.7,265.7 824.2,276.7 815.0,280.0 C805.8,283.3 771.7,285.7 760.0,282.0 C748.3,278.3 735.8,261.3 745.0,258.0Z" fill="#f8d400" filter="url(#bl3)"/>
<path d="M736.0,272.0 C750.2,270.5 806.8,280.7 821.0,285.0 C835.2,289.3 835.2,296.5 821.0,298.0 C806.8,299.5 750.2,298.3 736.0,294.0 C721.8,289.7 721.8,273.5 736.0,272.0Z" fill="#f80000" filter="url(#sp)"/>
<path d="M900.0,300.0 C913.3,290.8 938.7,283.3 950.0,285.0 C961.3,286.7 968.0,301.7 968.0,310.0 C968.0,318.3 959.7,326.7 950.0,335.0 C940.3,343.3 922.5,353.3 910.0,360.0 C897.5,366.7 881.7,378.3 875.0,375.0 C868.3,371.7 865.8,352.5 870.0,340.0 C874.2,327.5 886.7,309.2 900.0,300.0Z" fill="#f80000" filter="url(#bl3)"/>
<path d="M918.0,290.0 C923.0,283.7 948.3,286.2 955.0,292.0 C961.7,297.8 963.0,318.7 958.0,325.0 C953.0,331.3 931.7,335.8 925.0,330.0 C918.3,324.2 913.0,296.3 918.0,290.0Z" fill="#f008e0" filter="url(#bl3)"/>
<path d="M878.0,315.0 C883.5,306.7 911.0,310.5 918.0,318.0 C925.0,325.5 925.5,351.7 920.0,360.0 C914.5,368.3 892.0,375.5 885.0,368.0 C878.0,360.5 872.5,323.3 878.0,315.0Z" fill="#f008e0" filter="url(#bl3)"/>
<path d="M955.0,290.0 C959.0,281.2 969.8,285.3 972.0,292.0 C974.2,298.7 972.0,321.2 968.0,330.0 C964.0,338.8 950.2,351.7 948.0,345.0 C945.8,338.3 951.0,298.8 955.0,290.0Z" fill="#f8a810" filter="url(#bl2)"/>
<path d="M940.0,340.0 C952.8,331.7 961.7,329.2 955.0,335.0 C948.3,340.8 912.8,366.7 900.0,375.0 C887.2,383.3 871.3,390.8 878.0,385.0 C884.7,379.2 927.2,348.3 940.0,340.0Z" fill="#f8a810" filter="url(#bl2)"/>
<path d="M800.0,365.0 C815.0,359.5 872.5,367.0 880.0,372.0 C887.5,377.0 853.3,388.7 845.0,395.0 C836.7,401.3 836.7,405.8 830.0,410.0 C823.3,414.2 811.7,420.8 805.0,420.0 C798.3,419.2 790.8,414.2 790.0,405.0 C789.2,395.8 785.0,370.5 800.0,365.0Z" fill="#f80000" filter="url(#bl3)"/>
<path d="M804.0,380.0 C810.3,374.3 844.7,373.8 850.0,378.0 C855.3,382.2 842.3,399.3 836.0,405.0 C829.7,410.7 817.3,416.2 812.0,412.0 C806.7,407.8 797.7,385.7 804.0,380.0Z" fill="#f8a810" filter="url(#sp2)"/>
<path d="M690.0,407.0 C701.7,395.5 756.7,395.5 770.0,407.0 C783.3,418.5 781.7,464.5 770.0,476.0 C758.3,487.5 713.3,487.5 700.0,476.0 C686.7,464.5 678.3,418.5 690.0,407.0Z" fill="#f8cc00" filter="url(#bl6)"/>
<path d="M735.0,428.0 C738.7,424.7 755.8,424.7 760.0,428.0 C764.2,431.3 763.7,444.7 760.0,448.0 C756.3,451.3 742.2,451.3 738.0,448.0 C733.8,444.7 731.3,431.3 735.0,428.0Z" fill="#f8e000" filter="url(#bl5)"/>
<path d="M766.0,415.0 C775.0,403.7 814.3,407.5 820.0,415.0 C825.7,422.5 805.8,448.7 800.0,460.0 C794.2,471.3 790.7,479.2 785.0,483.0 C779.3,486.8 769.2,494.3 766.0,483.0 C762.8,471.7 757.0,426.3 766.0,415.0Z" fill="#f8a810" filter="url(#bl4)"/>
<path d="M774.0,450.0 C776.7,444.0 789.0,444.0 792.0,450.0 C795.0,456.0 794.7,480.0 792.0,486.0 C789.3,492.0 779.0,492.0 776.0,486.0 C773.0,480.0 771.3,456.0 774.0,450.0Z" fill="#f80000" filter="url(#sp)"/>
<path d="M736.0,392.0 C746.7,389.0 792.7,389.0 804.0,392.0 C815.3,395.0 814.7,407.0 804.0,410.0 C793.3,413.0 751.3,413.0 740.0,410.0 C728.7,407.0 725.3,395.0 736.0,392.0Z" fill="#f80000" filter="url(#bl3)"/>
<path d="M759.0,392.0 C763.0,390.5 781.5,390.5 786.0,392.0 C790.5,393.5 790.0,399.5 786.0,401.0 C782.0,402.5 766.5,402.5 762.0,401.0 C757.5,399.5 755.0,393.5 759.0,392.0Z" fill="#f008e0" filter="url(#bl2)"/>
<path d="M706.0,483.0 C717.2,470.3 769.3,470.3 782.0,483.0 C794.7,495.7 793.2,546.3 782.0,559.0 C770.8,571.7 727.7,571.7 715.0,559.0 C702.3,546.3 694.8,495.7 706.0,483.0Z" fill="#f8a810" filter="url(#bl5)"/>
<path d="M706.0,483.0 C717.2,470.3 769.3,470.3 782.0,483.0 C794.7,495.7 793.2,546.3 782.0,559.0 C770.8,571.7 727.7,571.7 715.0,559.0 C702.3,546.3 694.8,495.7 706.0,483.0Z" fill="#f80000" filter="url(#sp2)"/>
<path d="M745.0,491.0 C749.3,479.7 770.8,479.7 776.0,491.0 C781.2,502.3 780.3,547.7 776.0,559.0 C771.7,570.3 755.2,570.3 750.0,559.0 C744.8,547.7 740.7,502.3 745.0,491.0Z" fill="#f80000" filter="url(#bl3)"/>
<path d="M663.0,501.0 C674.7,484.5 709.2,494.2 720.0,501.0 C730.8,507.8 719.7,535.2 728.0,542.0 C736.3,548.8 763.0,522.2 770.0,542.0 C777.0,561.8 778.3,637.8 770.0,661.0 C761.7,684.2 739.0,677.7 720.0,681.0 C701.0,684.3 669.3,687.8 656.0,681.0 C642.7,674.2 641.0,653.5 640.0,640.0 C639.0,626.5 646.2,623.2 650.0,600.0 C653.8,576.8 651.3,517.5 663.0,501.0Z" fill="#f80000" filter="url(#bl4)"/>
<path d="M680.0,521.0 C686.2,517.2 714.2,517.2 721.0,521.0 C727.8,524.8 727.2,540.2 721.0,544.0 C714.8,547.8 690.8,547.8 684.0,544.0 C677.2,540.2 673.8,524.8 680.0,521.0Z" fill="#f008e0" filter="url(#sp2)"/>
<path d="M677.0,567.0 C686.2,552.7 733.7,552.7 745.0,567.0 C756.3,581.3 754.2,638.7 745.0,653.0 C735.8,667.3 701.3,667.3 690.0,653.0 C678.7,638.7 667.8,581.3 677.0,567.0Z" fill="#f008e0" filter="url(#sp)"/>
<path d="M690.0,580.0 C695.8,570.0 727.5,570.0 735.0,580.0 C742.5,590.0 740.8,630.0 735.0,640.0 C729.2,650.0 707.5,650.0 700.0,640.0 C692.5,630.0 684.2,590.0 690.0,580.0Z" fill="#f008e0" filter="url(#bl4)"/>
<path d="M728.0,598.0 C731.0,594.5 744.7,594.5 748.0,598.0 C751.3,601.5 751.0,615.5 748.0,619.0 C745.0,622.5 733.3,622.5 730.0,619.0 C726.7,615.5 725.0,601.5 728.0,598.0Z" fill="#f008e0" filter="url(#bl3)"/>
<path d="M600.0,633.0 C608.5,626.3 646.7,626.3 656.0,633.0 C665.3,639.7 664.5,666.3 656.0,673.0 C647.5,679.7 614.3,679.7 605.0,673.0 C595.7,666.3 591.5,639.7 600.0,633.0Z" fill="#f80000" filter="url(#bl3)"/>
<path d="M612.0,644.0 C616.2,640.7 634.5,640.7 639.0,644.0 C643.5,647.3 643.2,660.7 639.0,664.0 C634.8,667.3 618.5,667.3 614.0,664.0 C609.5,660.7 607.8,647.3 612.0,644.0Z" fill="#f008e0" filter="url(#bl3)"/>
<path d="M651.0,661.0 C656.5,658.2 681.8,658.2 688.0,661.0 C694.2,663.8 693.5,675.2 688.0,678.0 C682.5,680.8 661.2,680.8 655.0,678.0 C648.8,675.2 645.5,663.8 651.0,661.0Z" fill="#f008e0" filter="url(#sp)"/>
<path d="M748.0,550.0 C756.7,542.8 797.2,542.8 807.0,550.0 C816.8,557.2 815.7,585.8 807.0,593.0 C798.3,600.2 764.8,600.2 755.0,593.0 C745.2,585.8 739.3,557.2 748.0,550.0Z" fill="#f8a810" filter="url(#bl4)"/>
<path d="M612.0,678.0 C624.3,671.3 676.2,671.3 689.0,678.0 C701.8,684.7 701.3,711.3 689.0,718.0 C676.7,724.7 627.8,724.7 615.0,718.0 C602.2,711.3 599.7,684.7 612.0,678.0Z" fill="#f8a810" filter="url(#bl4)"/>
<path d="M612.0,685.0 C624.3,680.5 676.2,680.5 689.0,685.0 C701.8,689.5 701.3,707.5 689.0,712.0 C676.7,716.5 627.8,716.5 615.0,712.0 C602.2,707.5 599.7,689.5 612.0,685.0Z" fill="#f8f400" filter="url(#sp2)"/>
<path d="M622.0,708.0 C625.2,705.8 639.5,705.8 643.0,708.0 C646.5,710.2 646.2,718.8 643.0,721.0 C639.8,723.2 627.5,723.2 624.0,721.0 C620.5,718.8 618.8,710.2 622.0,708.0Z" fill="#f80000" filter="url(#bl2)"/>
<path d="M544.0,660.0 C554.7,650.7 600.7,652.3 612.0,662.0 C623.3,671.7 622.7,708.7 612.0,718.0 C601.3,727.3 559.3,727.7 548.0,718.0 C536.7,708.3 533.3,669.3 544.0,660.0Z" fill="#f8a810" filter="url(#bl5)"/>
<path d="M544.0,680.0 C552.7,673.7 590.7,673.7 600.0,680.0 C609.3,686.3 608.7,711.7 600.0,718.0 C591.3,724.3 557.3,724.3 548.0,718.0 C538.7,711.7 535.3,686.3 544.0,680.0Z" fill="#f8f400" filter="url(#sp)"/>
<path d="M561.0,669.0 C564.7,665.3 582.7,665.3 587.0,669.0 C591.3,672.7 590.7,687.3 587.0,691.0 C583.3,694.7 569.3,694.7 565.0,691.0 C560.7,687.3 557.3,672.7 561.0,669.0Z" fill="#f80000" filter="url(#bl3)"/>
<path d="M587.0,688.0 C589.5,686.3 601.2,686.3 604.0,688.0 C606.8,689.7 606.5,696.3 604.0,698.0 C601.5,699.7 591.8,699.7 589.0,698.0 C586.2,696.3 584.5,689.7 587.0,688.0Z" fill="#80f010" filter="url(#bl2)"/>
<path d="M470.0,700.0 C480.0,693.3 528.3,695.0 540.0,700.0 C551.7,705.0 550.0,723.3 540.0,730.0 C530.0,736.7 491.7,745.0 480.0,740.0 C468.3,735.0 460.0,706.7 470.0,700.0Z" fill="#f8a810" filter="url(#bl5)"/>
<path d="M470.0,712.0 C474.2,707.5 495.0,705.0 500.0,708.0 C505.0,711.0 504.2,725.5 500.0,730.0 C495.8,734.5 480.0,738.0 475.0,735.0 C470.0,732.0 465.8,716.5 470.0,712.0Z" fill="#f8d400" filter="url(#sp2)"/>
<path d="M504.0,705.0 C506.7,702.2 519.0,702.2 522.0,705.0 C525.0,707.8 524.7,719.2 522.0,722.0 C519.3,724.8 509.0,724.8 506.0,722.0 C503.0,719.2 501.3,707.8 504.0,705.0Z" fill="#f80000" filter="url(#sp2)"/>
<path d="M508.0,708.0 C509.5,706.3 516.3,706.3 518.0,708.0 C519.7,709.7 519.5,716.3 518.0,718.0 C516.5,719.7 510.7,719.7 509.0,718.0 C507.3,716.3 506.5,709.7 508.0,708.0Z" fill="#f80000" filter="url(#bl2)"/>
<path d="M348.0,640.0 C354.7,635.0 389.7,650.8 400.0,660.0 C410.3,669.2 416.7,690.0 410.0,695.0 C403.3,700.0 370.3,699.2 360.0,690.0 C349.7,680.8 341.3,645.0 348.0,640.0Z" fill="#f8a810" filter="url(#bl5)"/>
<path d="M945.0,470.0 C950.0,463.7 968.3,457.0 975.0,462.0 C981.7,467.0 987.5,491.7 985.0,500.0 C982.5,508.3 966.7,512.0 960.0,512.0 C953.3,512.0 947.5,507.0 945.0,500.0 C942.5,493.0 940.0,476.3 945.0,470.0Z" fill="#f008e0" filter="url(#bl3)"/>
<path d="M925.0,485.0 C928.3,480.5 941.2,475.5 945.0,478.0 C948.8,480.5 951.3,495.5 948.0,500.0 C944.7,504.5 928.8,507.5 925.0,505.0 C921.2,502.5 921.7,489.5 925.0,485.0Z" fill="#f8a810" filter="url(#bl2)"/>
<path d="M973.0,478.0 C976.7,471.3 986.3,466.3 990.0,470.0 C993.7,473.7 997.0,492.0 995.0,500.0 C993.0,508.0 982.5,516.3 978.0,518.0 C973.5,519.7 968.8,516.7 968.0,510.0 C967.2,503.3 969.3,484.7 973.0,478.0Z" fill="#f80000" filter="url(#bl2)"/>
<path d="M984.0,470.0 C986.0,467.0 996.2,471.3 998.0,476.0 C999.8,480.7 997.0,495.0 995.0,498.0 C993.0,501.0 987.8,498.7 986.0,494.0 C984.2,489.3 982.0,473.0 984.0,470.0Z" fill="#f8a810" filter="url(#bl2)"/>
<path d="M1008.0,450.0 C1014.3,446.3 1039.7,446.3 1046.0,450.0 C1052.3,453.7 1052.3,468.3 1046.0,472.0 C1039.7,475.7 1014.3,475.7 1008.0,472.0 C1001.7,468.3 1001.7,453.7 1008.0,450.0Z" fill="#f8a810" filter="url(#bl2)"/>
<path d="M1020.0,452.0 C1021.7,450.3 1028.3,450.3 1030.0,452.0 C1031.7,453.7 1031.7,460.3 1030.0,462.0 C1028.3,463.7 1021.7,463.7 1020.0,462.0 C1018.3,460.3 1018.3,453.7 1020.0,452.0Z" fill="#f80000" filter="url(#bl2)"/>
<path d="M860.0,528.0 C865.3,523.3 886.7,523.3 892.0,528.0 C897.3,532.7 897.3,551.3 892.0,556.0 C886.7,560.7 865.3,560.7 860.0,556.0 C854.7,551.3 854.7,532.7 860.0,528.0Z" fill="#f8a810" filter="url(#bl2)"/>
<path d="M872.0,558.0 C875.3,556.0 888.7,556.0 892.0,558.0 C895.3,560.0 895.3,568.0 892.0,570.0 C888.7,572.0 875.3,572.0 872.0,570.0 C868.7,568.0 868.7,560.0 872.0,558.0Z" fill="#f0e080" filter="url(#bl1)"/>
</g></g>
<path d="M357,185 L351,205 L342,222 L342,246 L339,252M287,259 L306,256 L324,252 L339,252M339,252 L342,273 L328,273 L316,276 L318,288 L324,301 L321,307 L325,319M342,273 L354,285 L379,287 L380,291M386,211 L394,228 L401,232 L397,243 L403,252M403,252 L394,264 L388,279 L380,291M380,291 L389,281 L401,285 L406,302 L391,313 L392,322M406,302 L427,307 L450,308 L473,314 L482,319M403,252 L424,243 L442,240 L462,246 L488,240 L511,232 L518,243M531,220 L518,232 L518,243M518,243 L511,258 L509,288 L503,301 L482,304 L482,319M518,243 L537,244 L549,261 L564,264 L564,250 L579,237 L592,231 L606,225 L609,221M549,261 L546,270 L543,291 L553,313 L564,323M503,301 L506,325 L518,334 L541,337 L556,340 L564,323M482,319 L488,342 L485,364 L486,381M564,323 L560,345 L570,355 L586,354 L601,375M492,386 L515,386 L522,372 L530,365 L559,357 L573,360 L586,354M405,375 L422,372 L446,380 L477,381 L486,381 L492,386M492,386 L495,400 L489,415 L477,423 L471,430 L462,441 L459,448M516,388 L530,415 L536,424M536,424 L560,406 L577,391 L589,385 L602,375M602,375 L621,374 L644,388 L667,389 L675,380M536,424 L538,441 L527,451 L507,451 L492,461 L480,458M459,448 L471,454 L480,458M390,448 L408,444 L428,433 L446,447 L459,448M480,458 L478,476 L486,488 L487,503 L500,515M366,512 L380,511 L393,517 L395,526 L421,531 L431,538 L446,535 L462,532 L477,523 L492,517 L515,514M538,441 L545,448 L568,461 L580,464 L567,476 L589,470 L606,467 L611,467M589,385 L586,403 L589,421 L598,436 L608,451 L611,467M611,461 L626,445 L641,430 L667,424 L685,441M611,467 L621,494 L623,509 L620,516M515,514 L527,505 L553,505 L550,519 L565,525 L598,511 L620,511M620,511 L626,526 L623,548 L635,567 L629,584M515,514 L516,532 L501,545 L504,555 L498,566M498,566 L487,568 L466,586 L463,606M498,566 L505,569 L527,583 L542,592 L572,592 L595,586 L613,588 L630,583M380,602 L401,612 L427,622 L439,609 L454,608 L463,606M427,622 L427,634 L405,642 L410,654 L415,669 L412,693 L414,710M463,606 L473,632 L472,647 L488,642 L499,655 L507,668 L513,679 L533,676 L540,670 L554,665M539,592 L545,607 L540,630 L545,648 L554,665M554,665 L572,655 L587,650 L603,650 L621,642 L633,629 L644,617M630,583 L647,591 L648,606 L644,617M644,617 L657,621 L657,645 L648,659 L639,667 L636,679 L618,688 L615,703 L609,715M657,621 L672,610 L682,595 L706,577 L723,568 L735,569M732,572 L730,592 L736,606 L739,627 L750,633M639,667 L663,662 L679,652 L688,661 L688,667M554,665 L539,679 L537,694 L542,700 L563,709 L569,715M513,679 L505,682 L488,694 L481,696 L478,706 L470,725 L465,740M414,712 L440,706 L460,712 L478,706M702,514 L717,523 L723,532 L723,545 L733,560 L735,569M723,475 L720,484 L717,496 L705,503 L702,514M702,514 L670,523 L635,525 L620,516M685,441 L702,456 L714,472 L723,475M669,388 L698,403 L699,426 L685,441M666,380 L696,402 L711,392 L726,385 L757,400 L772,412 L787,415 L799,412 L803,389 L807,368M772,414 L768,423 L772,441 L760,453 L754,465 L742,475 L723,475M803,412 L815,426 L818,430M742,475 L754,487 L772,487 L781,490M723,545 L745,548 L770,545 L790,553M682,326 L676,344 L666,367 L666,383M663,314 L640,316 L620,323 L610,345 L602,375M610,277 L609,298 L613,314 L621,323 L632,314 L645,314 L663,314M639,285 L654,291 L676,305 L688,311M663,314 L676,324 L682,326M609,253 L606,265 L627,280 L639,285M657,238 L657,256 L651,268 L639,285M592,232 L606,236 L618,238 L624,245 L639,247 L645,239 L647,226M645,239 L657,238 L676,230 L685,224M682,326 L688,311 L697,326 L709,320 L711,298 L709,286 L724,276 L732,265 L735,256M735,253 L732,277 L739,298 L738,317 L755,335 L773,350 L782,367 L797,365 L806,371M822,256 L825,277 L826,298 L819,329 L806,344 L806,371 L809,383M807,368 L820,365 L835,360 L846,356 L864,356M879,280 L881,298 L878,317 L867,337 L864,356 L876,375 L880,376M881,298 L900,315 L920,330 L945,338" fill="none" stroke="#000" stroke-opacity="0.85" stroke-width="1" stroke-linejoin="round" clip-path="url(#clipmR)"/>
<path d="M400.0,202.0 L438.0,202.0 L451.0,200.0 L459.0,197.0 L468.0,204.0 L490.0,207.0 L496.0,211.0 L531.0,218.6 L555.0,215.0 L571.5,212.0 L585.0,210.5 L591.6,215.0 L607.7,221.0 L629.0,215.0 L649.0,224.6 L681.5,219.0 L687.0,225.0 L705.7,227.0 L709.7,239.0 L721.8,244.8 L741.0,250.0 L753.7,260.5 L765.0,258.0 L784.0,268.6 L793.0,265.7 L818.8,267.4 L821.0,254.7 L843.0,260.0 L859.5,263.4 L866.5,283.7 L880.5,279.0 L894.0,283.0 L896.7,288.0 L910.7,282.0 L924.7,286.6 L936.0,281.4 L948.0,276.7 L961.9,279.0 L970.0,286.0 L964.0,291.9 L963.0,302.0 L967.7,312.8 L961.9,324.0 L943.0,332.6 L929.0,346.0 L911.0,360.0 L906.0,367.0 L879.5,375.0 L856.0,387.0 L841.0,395.0 L830.7,408.0 L839.0,413.7 L825.0,425.0 L816.7,431.0 L805.0,453.0 L791.0,472.0 L779.5,490.0 L773.7,504.0 L773.7,513.5 L779.5,530.0 L782.0,541.4 L791.0,553.0 L805.0,560.0 L806.0,563.5 L791.0,577.4 L773.7,585.6 L765.6,595.0 L763.5,605.0 L756.5,620.0 L750.7,629.5 L746.0,640.0 L753.0,647.0 L750.7,649.3 L727.4,654.0 L711.0,657.4 L699.5,666.7 L690.0,677.0 L684.4,694.7 L676.0,706.0 L670.5,715.6 L661.0,714.4 L653.0,708.6 L641.4,712.0 L633.0,719.0 L624.0,718.0 L607.7,713.0 L589.0,718.0 L571.6,715.6 L560.0,714.4 L550.8,715.4 L529.0,716.8 L515.7,727.6 L502.0,731.6 L482.0,738.4 L475.0,745.0 L469.7,758.6 L456.0,766.8 L442.7,761.4 L430.5,753.0 L421.0,738.0 L414.0,727.6 L407.6,714.0 L410.0,702.0 L400.8,691.0 L383.0,679.0 L367.0,676.0 L349.5,676.0 L348.0,664.0 L344.0,648.0 L349.5,634.0 L352.0,630.0 L362.0,615.0 L378.0,604.0 L369.3,600.0 L360.2,580.5 L364.7,561.0 L375.3,551.8 L381.4,536.7 L372.3,532.0 L366.0,524.6 L361.7,505.0 L351.0,490.6 L381.4,491.0 L383.0,479.0 L390.4,470.0 L383.0,456.6 L383.0,450.6 L394.7,442.5 L394.7,424.7 L397.0,405.6 L391.0,390.0 L398.5,386.5 L408.7,376.0 L422.7,368.7 L434.0,351.0 L420.0,344.5 L415.0,342.0 L415.0,324.0 L399.8,320.4 L382.0,320.4 L366.7,330.5 L354.0,328.0 L340.0,324.0 L324.0,327.9 L321.7,319.6 L327.7,310.7 L321.0,304.7 L308.3,307.7 L299.3,309.2 L291.9,316.7 L283.7,321.1 L283.7,303.2 L288.1,298.7 L300.1,287.5 L286.6,292.8 L288.9,286.8 L298.6,280.8 L288.1,280.0 L283.7,277.1 L287.4,273.3 L291.9,262.9 L279.9,271.8 L276.9,267.4 L279.9,259.9 L288.1,250.2 L277.7,255.4 L274.7,251.7 L274.0,244.2 L267.2,242.7 L268.0,236.0 L267.3,231.0 L273.2,222.7 L282.6,220.4 L285.5,215.6 L293.2,211.5 L298.5,216.2 L309.0,214.5 L316.0,210.4 L319.6,214.5 L320.8,209.8 L327.9,218.0 L328.5,209.0 L332.0,208.6 L323.2,206.2 L322.0,203.3 L332.0,201.5 L323.2,197.4 L337.3,191.5 L337.9,187.4 L347.3,183.3 L349.0,189.8 L351.4,186.8 L358.5,182.7 L362.0,185.0 L363.8,191.5 L369.0,187.4 L376.7,192.0 L381.4,199.8 L392.0,201.5ZM929.0,494.5 L938.0,485.6 L952.4,472.3 L966.8,465.6 L978.0,463.4 L971.3,472.3 L981.3,479.0 L986.9,475.6 L994.7,480.0 L991.3,491.2 L983.5,506.8 L972.4,515.7 L955.7,509.0 L952.4,497.9 L946.8,495.6 L939.0,503.4 L930.0,496.8ZM1011.4,455.6 L1028.0,450.0 L1037.0,456.7 L1043.6,465.6 L1041.4,470.0 L1028.0,463.4 L1013.6,462.3ZM865.6,543.5 L872.3,536.8 L883.4,531.3 L888.4,536.8 L884.5,543.5 L876.7,552.4 L866.7,551.3 L864.5,546.8ZM876.0,561.0 L880.0,562.0 L888.0,564.0 L886.0,567.0 L879.0,566.0 L876.0,566.0Z" fill="none" stroke="#000" stroke-width="1.5" stroke-linejoin="round"/>
<path d="M50.6,700.0 L62.0,701.8 L64.5,711.4 L61.0,723.6 L54.0,732.3 L48.8,718.4 L44.5,706.0Z" fill="#f8e000" stroke="#000" stroke-width="1"/>
<path d="M23.5,788.0 L30.5,787.3 L41.9,781.0 L44.5,784.7 L36.6,798.6 L33.0,793.4 L24.4,790.8Z" fill="#f8dc00" stroke="#000" stroke-width="1"/>
<path d="M118.6,749.8 L153.5,746.3 L165.7,736.7 L178.8,737.6 L178.0,742.0 L160.5,753.3 L153.5,770.7 L144.8,779.4 L132.6,780.3 L125.6,762.0Z" fill="#f8cc00" stroke="#000" stroke-width="1"/>
<path d="M293.0,789.9 L303.5,794.3 L314.0,784.7 L334.9,782.0 L341.0,762.0 L344.5,740.2 L335.8,740.2 L329.7,753.3 L319.2,770.7 L310.5,781.2 L296.5,789.0Z" fill="#f8c400" stroke="#000" stroke-width="1"/>
<path d="M342.8,730.6 L348.9,714.9 L364.6,711.4 L373.3,704.4 L378.5,708.0 L373.3,718.4 L362.8,725.4 L348.9,732.3Z" fill="#f8e400" stroke="#000" stroke-width="1"/>
<ellipse cx="95" cy="766.3" rx="9" ry="8.4" fill="#f8ec00" stroke="#000" stroke-width="1"/>
<path d="M206,775 L222,778 L227,790 L226,802 L211,811 L198,806 L194,792 L198,781Z" fill="#f8bc00" stroke="#000" stroke-width="1"/>
<circle cx="373" cy="690" r="1.3" fill="none" stroke="#000" stroke-width="0.8"/><circle cx="371" cy="698" r="1.6" fill="none" stroke="#000" stroke-width="0.8"/>
<path d="M0,684 L381,684 L381,817" fill="none" stroke="#6a6a6a" stroke-width="2"/>
<path d="M469,776 L474,775 L475,779 L470,780Z" fill="#f0d020" stroke="#d8b000" stroke-width="0.6"/>
<rect x="107.00" y="830" width="29.27" height="14.5" fill="#7010b8"/>
<rect x="136.27" y="830" width="29.27" height="14.5" fill="#a020c8"/>
<rect x="165.55" y="830" width="29.27" height="14.5" fill="#d038d0"/>
<rect x="194.82" y="830" width="29.27" height="14.5" fill="#d060c8"/>
<rect x="224.09" y="830" width="29.27" height="14.5" fill="#c880b8"/>
<rect x="253.36" y="830" width="29.27" height="14.5" fill="#d0a0c0"/>
<rect x="282.64" y="830" width="29.27" height="14.5" fill="#d8b8c8"/>
<rect x="311.91" y="830" width="29.27" height="14.5" fill="#e0d0d8"/>
<rect x="341.18" y="830" width="29.27" height="14.5" fill="#e8e8e8"/>
<rect x="370.45" y="830" width="29.27" height="14.5" fill="#ffffff"/>
<rect x="399.73" y="830" width="29.27" height="14.5" fill="#000060"/>
<rect x="429.00" y="830" width="29.27" height="14.5" fill="#0818a8"/>
<rect x="458.27" y="830" width="29.27" height="14.5" fill="#1030e8"/>
<rect x="487.55" y="830" width="29.27" height="14.5" fill="#3060f0"/>
<rect x="516.82" y="830" width="29.27" height="14.5" fill="#70a0f0"/>
<rect x="546.09" y="830" width="29.27" height="14.5" fill="#00f0f0"/>
<rect x="575.36" y="830" width="29.27" height="14.5" fill="#20d8d0"/>
<rect x="604.64" y="830" width="29.27" height="14.5" fill="#20c8c0"/>
<rect x="633.91" y="830" width="29.27" height="14.5" fill="#20b0a0"/>
<rect x="663.18" y="830" width="29.27" height="14.5" fill="#78f810"/>
<rect x="692.45" y="830" width="29.27" height="14.5" fill="#d8f808"/>
<rect x="721.73" y="830" width="29.27" height="14.5" fill="#fff800"/>
<rect x="751.00" y="830" width="29.27" height="14.5" fill="#f8d800"/>
<rect x="780.27" y="830" width="29.27" height="14.5" fill="#f8c000"/>
<rect x="809.55" y="830" width="29.27" height="14.5" fill="#f8a810"/>
<rect x="838.82" y="830" width="29.27" height="14.5" fill="#f88010"/>
<rect x="868.09" y="830" width="29.27" height="14.5" fill="#f80000"/>
<rect x="897.36" y="830" width="29.27" height="14.5" fill="#f808e8"/>
<rect x="926.64" y="830" width="29.27" height="14.5" fill="#e008b8"/>
<rect x="955.91" y="830" width="29.27" height="14.5" fill="#d00090"/>
<rect x="985.18" y="830" width="29.27" height="14.5" fill="#b80068"/>
<rect x="1014.45" y="830" width="29.27" height="14.5" fill="#a00048"/>
<rect x="1043.73" y="830" width="29.27" height="14.5" fill="#8c1820"/>
<line x1="107.00" y1="830" x2="107.00" y2="844.5" stroke="#000" stroke-width="1"/>
<line x1="136.27" y1="830" x2="136.27" y2="844.5" stroke="#000" stroke-width="1"/>
<line x1="165.55" y1="830" x2="165.55" y2="844.5" stroke="#000" stroke-width="1"/>
<line x1="194.82" y1="830" x2="194.82" y2="844.5" stroke="#000" stroke-width="1"/>
<line x1="224.09" y1="830" x2="224.09" y2="844.5" stroke="#000" stroke-width="1"/>
<line x1="253.36" y1="830" x2="253.36" y2="844.5" stroke="#000" stroke-width="1"/>
<line x1="282.64" y1="830" x2="282.64" y2="844.5" stroke="#000" stroke-width="1"/>
<line x1="311.91" y1="830" x2="311.91" y2="844.5" stroke="#000" stroke-width="1"/>
<line x1="341.18" y1="830" x2="341.18" y2="844.5" stroke="#000" stroke-width="1"/>
<line x1="370.45" y1="830" x2="370.45" y2="844.5" stroke="#000" stroke-width="1"/>
<line x1="399.73" y1="830" x2="399.73" y2="844.5" stroke="#000" stroke-width="1"/>
<line x1="429.00" y1="830" x2="429.00" y2="844.5" stroke="#000" stroke-width="1"/>
<line x1="458.27" y1="830" x2="458.27" y2="844.5" stroke="#000" stroke-width="1"/>
<line x1="487.55" y1="830" x2="487.55" y2="844.5" stroke="#000" stroke-width="1"/>
<line x1="516.82" y1="830" x2="516.82" y2="844.5" stroke="#000" stroke-width="1"/>
<line x1="546.09" y1="830" x2="546.09" y2="844.5" stroke="#000" stroke-width="1"/>
<line x1="575.36" y1="830" x2="575.36" y2="844.5" stroke="#000" stroke-width="1"/>
<line x1="604.64" y1="830" x2="604.64" y2="844.5" stroke="#000" stroke-width="1"/>
<line x1="633.91" y1="830" x2="633.91" y2="844.5" stroke="#000" stroke-width="1"/>
<line x1="663.18" y1="830" x2="663.18" y2="844.5" stroke="#000" stroke-width="1"/>
<line x1="692.45" y1="830" x2="692.45" y2="844.5" stroke="#000" stroke-width="1"/>
<line x1="721.73" y1="830" x2="721.73" y2="844.5" stroke="#000" stroke-width="1"/>
<line x1="751.00" y1="830" x2="751.00" y2="844.5" stroke="#000" stroke-width="1"/>
<line x1="780.27" y1="830" x2="780.27" y2="844.5" stroke="#000" stroke-width="1"/>
<line x1="809.55" y1="830" x2="809.55" y2="844.5" stroke="#000" stroke-width="1"/>
<line x1="838.82" y1="830" x2="838.82" y2="844.5" stroke="#000" stroke-width="1"/>
<line x1="868.09" y1="830" x2="868.09" y2="844.5" stroke="#000" stroke-width="1"/>
<line x1="897.36" y1="830" x2="897.36" y2="844.5" stroke="#000" stroke-width="1"/>
<line x1="926.64" y1="830" x2="926.64" y2="844.5" stroke="#000" stroke-width="1"/>
<line x1="955.91" y1="830" x2="955.91" y2="844.5" stroke="#000" stroke-width="1"/>
<line x1="985.18" y1="830" x2="985.18" y2="844.5" stroke="#000" stroke-width="1"/>
<line x1="1014.45" y1="830" x2="1014.45" y2="844.5" stroke="#000" stroke-width="1"/>
<line x1="1043.73" y1="830" x2="1043.73" y2="844.5" stroke="#000" stroke-width="1"/>
<line x1="1073.00" y1="830" x2="1073.00" y2="844.5" stroke="#000" stroke-width="1"/>
<rect x="107" y="830" width="966" height="14.5" fill="none" stroke="#000" stroke-width="1.2"/>
<text x="107.00" y="827.8" class="lab">-30</text>
<text x="136.27" y="827.8" class="lab">-18</text>
<text x="165.55" y="827.8" class="lab">-16</text>
<text x="194.82" y="827.8" class="lab">-14</text>
<text x="224.09" y="827.8" class="lab">-12</text>
<text x="253.36" y="827.8" class="lab">-10</text>
<text x="282.64" y="827.8" class="lab">-8</text>
<text x="311.91" y="827.8" class="lab">-6</text>
<text x="341.18" y="827.8" class="lab">-4</text>
<text x="370.45" y="827.8" class="lab">-2</text>
<text x="399.73" y="827.8" class="lab">0</text>
<text x="429.00" y="827.8" class="lab">2</text>
<text x="458.27" y="827.8" class="lab">4</text>
<text x="487.55" y="827.8" class="lab">6</text>
<text x="516.82" y="827.8" class="lab">8</text>
<text x="546.09" y="827.8" class="lab">10</text>
<text x="575.36" y="827.8" class="lab">12</text>
<text x="604.64" y="827.8" class="lab">14</text>
<text x="633.91" y="827.8" class="lab">16</text>
<text x="663.18" y="827.8" class="lab">18</text>
<text x="692.45" y="827.8" class="lab">20</text>
<text x="721.73" y="827.8" class="lab">22</text>
<text x="751.00" y="827.8" class="lab">24</text>
<text x="780.27" y="827.8" class="lab">26</text>
<text x="809.55" y="827.8" class="lab">28</text>
<text x="838.82" y="827.8" class="lab">30</text>
<text x="868.09" y="827.8" class="lab">32</text>
<text x="897.36" y="827.8" class="lab">34</text>
<text x="926.64" y="827.8" class="lab">36</text>
<text x="955.91" y="827.8" class="lab">38</text>
<text x="985.18" y="827.8" class="lab">40</text>
<text x="1014.45" y="827.8" class="lab">42</text>
<text x="1043.73" y="827.8" class="lab">44</text>
<text x="1073.00" y="827.8" class="lab">50</text>
<text x="239.4" y="171" class="tit" textLength="557" lengthAdjust="spacingAndGlyphs">Temperatura máxima (ºC) prevista para el sábado 18 de junio de 2022</text>
<text x="387.4" y="186.6" class="sub" textLength="410" lengthAdjust="spacingAndGlyphs">Fuente de datos: Predicción por municipios. AEMET OpenData</text>
<text x="767" y="796.5" class="cr1" textLength="195" lengthAdjust="spacingAndGlyphs">http://climaenmapas.blogspot.com</text>
<text x="767" y="809.5" class="cr2" textLength="294.5" lengthAdjust="spacingAndGlyphs">César Rodríguez Ballesteros, twitter: @crballesteros</text></g>
</svg></body></html>
